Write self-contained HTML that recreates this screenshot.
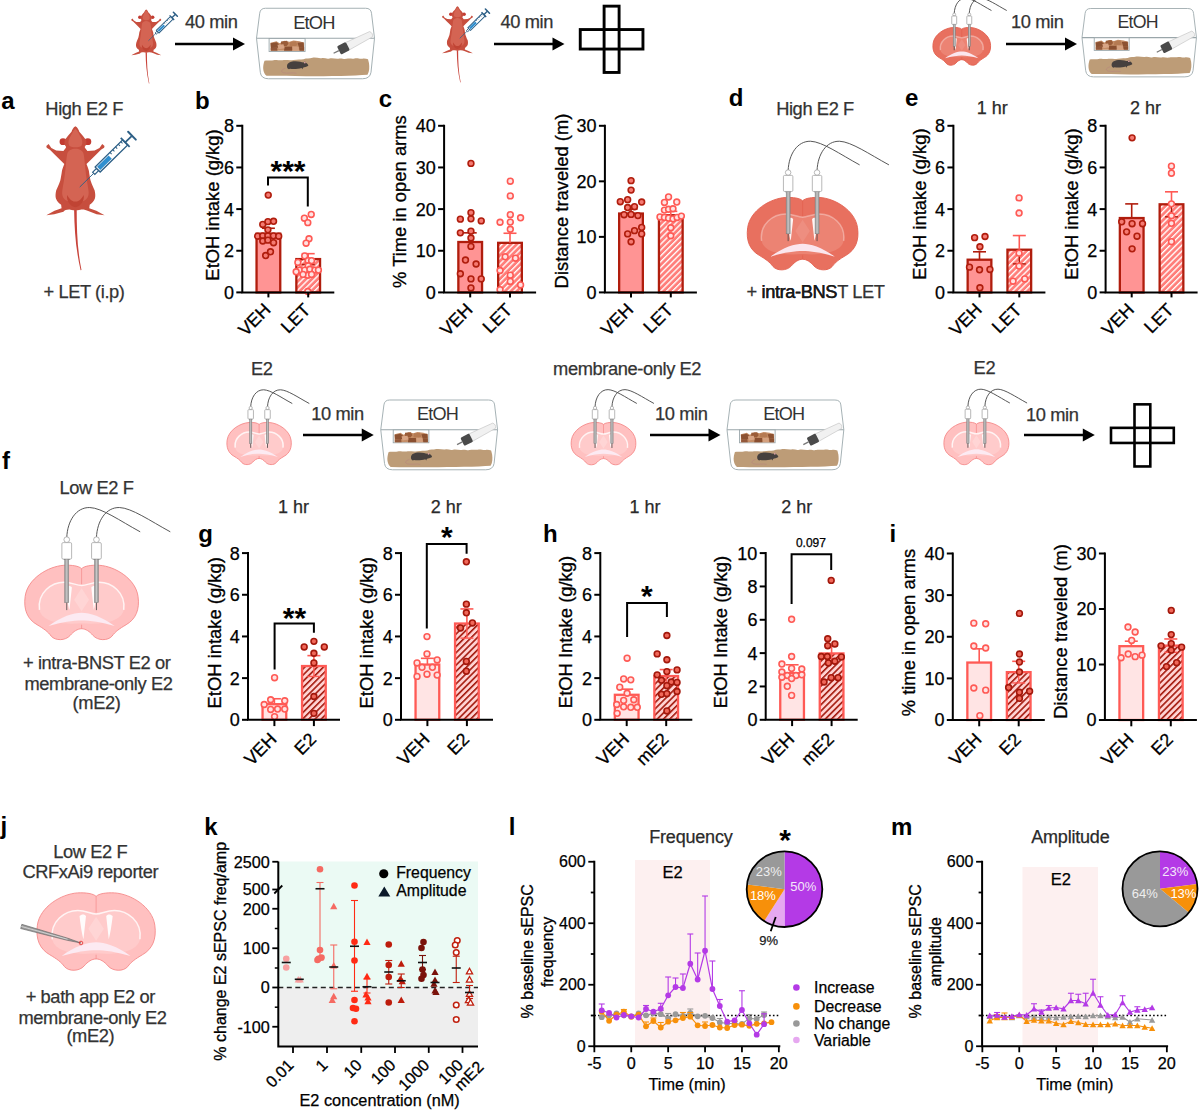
<!DOCTYPE html><html><head><meta charset="utf-8"><style>html,body{margin:0;padding:0;background:#fff;}svg{display:block;} text{font-family:"Liberation Sans", sans-serif;}</style></head><body>
<svg width="1200" height="1110" viewBox="0 0 1200 1110">
<defs><pattern id="h1" patternUnits="userSpaceOnUse" width="4.15" height="4.15" patternTransform="rotate(45)"><rect width="4.15" height="4.15" fill="#FF7E7A"/><rect x="0" y="0" width="1.35" height="4.15" fill="#fff"/></pattern><pattern id="h2" patternUnits="userSpaceOnUse" width="4.4" height="4.4" patternTransform="rotate(45)"><rect width="4.4" height="4.4" fill="#FFD3D3"/><rect x="0" y="0" width="1.6" height="4.4" fill="#A3180C"/></pattern></defs>
<rect width="1200" height="1110" fill="#fff"/>
<g transform="translate(122.86,6.16) scale(0.07425)">
<path d="M306,622 C308,760 318,900 351,1042 L357,1040 C328,900 324,760 324,622 Z" fill="#C8433A"/>
<circle cx="229" cy="150" r="24" fill="#C23B31"/><circle cx="401" cy="150" r="24" fill="#C23B31"/>
<path d="M315,44 C300,50 292,70 288,81 C270,100 250,125 240,140 C235,165 245,180 251,188 C245,200 238,208 232,215 L182,212 L148,194 L129,166 L113,180 L116,192 L138,206 L169,238 L213,281 L238,306 C230,325 225,340 222,350 C218,380 214,400 210,420 C200,450 190,470 182,488 C176,510 176,535 180,545 C185,560 200,580 216,588 L219,612 L170,630 L113,660 L168,654 L232,636 C240,625 258,620 280,622 C295,624 305,626 315,626 C325,626 335,624 350,622 C372,620 390,625 404,632 L462,654 L517,660 L460,630 L411,612 L414,588 C430,580 445,560 450,545 C454,535 454,510 448,488 C440,470 430,450 420,420 C416,400 412,380 408,350 C405,340 400,325 392,306 L417,281 L461,238 L492,206 L514,192 L517,180 L501,166 L482,194 L448,212 L398,215 C392,208 385,200 379,188 C385,180 395,165 390,140 C380,125 360,100 342,81 C338,70 330,50 315,44 Z" fill="#C74E3E"/>
<path d="M315,200 C290,200 265,212 258,235 C252,265 250,300 246,340 C240,400 230,450 224,490 C220,520 228,545 252,558 C277,572 300,575 315,575 C330,575 353,572 378,558 C402,545 410,520 406,490 C400,450 390,400 384,340 C380,300 378,265 372,235 C365,212 340,200 315,200 Z" fill="#D46453"/>
<path d="M315,60 C300,70 290,95 280,115 C265,140 262,165 275,180 C290,192 340,192 355,180 C368,165 365,140 350,115 C340,95 330,70 315,60 Z" fill="#D46453"/>
<path d="M258,520 C280,560 300,566 315,566 C330,566 350,560 372,520 C380,560 350,600 315,606 C280,600 250,560 258,520 Z" fill="#C04434"/>
<g transform="translate(345,465) rotate(-44.5)" stroke="#2D5F86" fill="none">
<line x1="0" y1="0" x2="138" y2="0" stroke-width="9.0"/>
<rect x="136" y="-11" width="38" height="22" stroke-width="12.0" fill="#fff"/>
<rect x="174" y="-25" width="268" height="50" stroke-width="13.5" fill="#fff"/>
<rect x="186.0" y="-14.0" width="112" height="28.0" fill="#2F8FD0" stroke="none"/>
<line x1="318" y1="-25" x2="318" y2="-8" stroke-width="10.5"/>
<line x1="345" y1="-25" x2="345" y2="-8" stroke-width="10.5"/>
<line x1="372" y1="-25" x2="372" y2="-8" stroke-width="10.5"/>
<line x1="399" y1="-25" x2="399" y2="-8" stroke-width="10.5"/>
<line x1="424" y1="-25" x2="424" y2="-8" stroke-width="10.5"/>
<line x1="442" y1="-44" x2="442" y2="44" stroke-width="18.0"/>
<line x1="442" y1="0" x2="505" y2="0" stroke-width="18.0"/>
<line x1="508" y1="-38" x2="508" y2="38" stroke-width="21.0" stroke-linecap="round"/>
</g>
</g>
<line x1="175.00" y1="44.00" x2="235.00" y2="44.00" stroke="#000" stroke-width="2.3"/>
<path d="M233.00,37.60 L245.00,44.00 L233.00,50.40 Z" fill="#000"/>
<text x="185.00" y="28.00" font-size="18.3" text-anchor="start" fill="#333" letter-spacing="-0.4" stroke="#333" stroke-width="0.25" >40 min</text>
<g transform="translate(256.50,8.25) scale(1.0000)">
<path d="M9,0 L109,0 Q114.5,0 115,5 L118,30 L114.5,64 Q113.5,70.5 106,70.5 L12,70.5 Q4.5,70.5 3.8,64 L0,30 L3.2,5 Q3.8,0 9,0 Z" fill="#fff" stroke="#A5B1B4" stroke-width="1"/>
<line x1="0" y1="30" x2="118" y2="30" stroke="#9AA6AA" stroke-width="1.1"/>
<text x="57.4" y="20.6" font-size="18.3" letter-spacing="-0.8" text-anchor="middle" fill="#333">EtOH</text>
<rect x="12.6" y="30.2" width="36" height="13" fill="#fff" stroke="#9AA6AA" stroke-width="0.9"/>
<path d="M14,34.5 L20,33 L23,35 L28,32.5 L33,33.5 L37,32.3 L43,33 L47.6,34.5 L47.6,42.6 L14,42.6 Z" fill="#C58D66"/>
<polygon points="14,35 20,34 22.5,36 21.5,39.5 14.5,39.8" fill="#8C5232"/>
<polygon points="24.5,33.2 30.5,32.5 32,35.5 30,38 24.5,37.5" fill="#9A5C38"/>
<polygon points="33.5,33.8 39.5,33 41,36.8 38,38.5 33,37.5" fill="#B57A52"/>
<polygon points="41,34.5 47,34 47.5,38.8 42.5,39.2" fill="#8C5232"/>
<polygon points="14.3,39.8 20.5,39.5 21,42.6 14.3,42.6" fill="#93583A"/>
<polygon points="28,38.5 35.5,38.3 35.8,42.6 27.5,42.6" fill="#8A4F30"/>
<polygon points="42.5,39 47.6,38.8 47.6,42.6 43,42.6" fill="#8C5232"/>
<polygon points="21,36.5 27,36 28,40 22,41" fill="#D9A585"/>
<polygon points="36,38 42,38.5 42.5,42.6 36.2,42.6" fill="#D4A07E"/>
<g transform="translate(86,40.5) rotate(-27)">
<path d="M4,-4.2 L32,-3 Q34.5,0 32,3 L4,4.2 Z" fill="#F1F1F1" stroke="#C4C4C4" stroke-width="0.6"/>
<rect x="-4" y="-4.6" width="10" height="9.2" rx="1.5" fill="#4A4A4A"/>
<line x1="-10" y1="0" x2="-4" y2="0" stroke="#777" stroke-width="1.3"/>
</g>
<path d="M8,52.5 C11,51.8 14,52.6 17,52 C20,51.2 22,52.4 26,52 C30,51.5 33,52.5 37,51.8 C41,51 44,51.5 47,51 C50,49.8 53,50.6 56,49.6 C59,48.8 62,50.4 65,50 C68,49.4 70,51 73,50.2 C76,49.4 79,50.8 82,50.4 C85,49.5 87,51.2 90,50.6 C93,49.6 95,50.8 98,50.2 C101,49.2 103,51 106,50.4 C108,50 110,50.6 111.5,51 L112.5,55 C113,59 113,63 111,66.5 C90,68.2 40,68.2 10,67.6 C6,64 6,58 8,52.5 Z" fill="#BD9C77"/>
<path transform="translate(2,0)" d="M28.5,58 C28.5,54.5 32,53 37,53 C41,53 43,54 45,54.2 L46.5,53.2 L47.3,54.5 C48.5,55 50,56.5 49.8,57.5 C48,58.5 46,59 44.5,59.5 L44,61 L43,59.8 C40,60.8 35,61 31.5,60.6 L30.5,61 C29,60.5 28.5,59.5 28.5,58 Z" fill="#46403E"/>
<circle cx="48.3" cy="54.3" r="0.9" fill="#D9A0A0"/>
<path d="M29,60 C26,61 23,63 27,64.5 C31,65.5 36,64 40,65" fill="none" stroke="#B48080" stroke-width="0.5"/>
</g>
<g transform="translate(433.40,2.81) scale(0.07640)">
<path d="M306,622 C308,760 318,900 351,1042 L357,1040 C328,900 324,760 324,622 Z" fill="#C8433A"/>
<circle cx="229" cy="150" r="24" fill="#C23B31"/><circle cx="401" cy="150" r="24" fill="#C23B31"/>
<path d="M315,44 C300,50 292,70 288,81 C270,100 250,125 240,140 C235,165 245,180 251,188 C245,200 238,208 232,215 L182,212 L148,194 L129,166 L113,180 L116,192 L138,206 L169,238 L213,281 L238,306 C230,325 225,340 222,350 C218,380 214,400 210,420 C200,450 190,470 182,488 C176,510 176,535 180,545 C185,560 200,580 216,588 L219,612 L170,630 L113,660 L168,654 L232,636 C240,625 258,620 280,622 C295,624 305,626 315,626 C325,626 335,624 350,622 C372,620 390,625 404,632 L462,654 L517,660 L460,630 L411,612 L414,588 C430,580 445,560 450,545 C454,535 454,510 448,488 C440,470 430,450 420,420 C416,400 412,380 408,350 C405,340 400,325 392,306 L417,281 L461,238 L492,206 L514,192 L517,180 L501,166 L482,194 L448,212 L398,215 C392,208 385,200 379,188 C385,180 395,165 390,140 C380,125 360,100 342,81 C338,70 330,50 315,44 Z" fill="#C74E3E"/>
<path d="M315,200 C290,200 265,212 258,235 C252,265 250,300 246,340 C240,400 230,450 224,490 C220,520 228,545 252,558 C277,572 300,575 315,575 C330,575 353,572 378,558 C402,545 410,520 406,490 C400,450 390,400 384,340 C380,300 378,265 372,235 C365,212 340,200 315,200 Z" fill="#D46453"/>
<path d="M315,60 C300,70 290,95 280,115 C265,140 262,165 275,180 C290,192 340,192 355,180 C368,165 365,140 350,115 C340,95 330,70 315,60 Z" fill="#D46453"/>
<path d="M258,520 C280,560 300,566 315,566 C330,566 350,560 372,520 C380,560 350,600 315,606 C280,600 250,560 258,520 Z" fill="#C04434"/>
<g transform="translate(345,465) rotate(-44.5)" stroke="#2D5F86" fill="none">
<line x1="0" y1="0" x2="138" y2="0" stroke-width="9.0"/>
<rect x="136" y="-11" width="38" height="22" stroke-width="12.0" fill="#fff"/>
<rect x="174" y="-25" width="268" height="50" stroke-width="13.5" fill="#fff"/>
<rect x="186.0" y="-14.0" width="112" height="28.0" fill="#2F8FD0" stroke="none"/>
<line x1="318" y1="-25" x2="318" y2="-8" stroke-width="10.5"/>
<line x1="345" y1="-25" x2="345" y2="-8" stroke-width="10.5"/>
<line x1="372" y1="-25" x2="372" y2="-8" stroke-width="10.5"/>
<line x1="399" y1="-25" x2="399" y2="-8" stroke-width="10.5"/>
<line x1="424" y1="-25" x2="424" y2="-8" stroke-width="10.5"/>
<line x1="442" y1="-44" x2="442" y2="44" stroke-width="18.0"/>
<line x1="442" y1="0" x2="505" y2="0" stroke-width="18.0"/>
<line x1="508" y1="-38" x2="508" y2="38" stroke-width="21.0" stroke-linecap="round"/>
</g>
</g>
<line x1="494.00" y1="44.00" x2="554.50" y2="44.00" stroke="#000" stroke-width="2.3"/>
<path d="M552.50,37.60 L564.50,44.00 L552.50,50.40 Z" fill="#000"/>
<text x="500.50" y="28.00" font-size="18.3" text-anchor="start" fill="#333" letter-spacing="-0.4" stroke="#333" stroke-width="0.25" >40 min</text>
<rect x="604.10" y="6.15" width="15.00" height="66.30" fill="none" stroke="#000" stroke-width="2.9"/>
<rect x="580.25" y="29.55" width="62.70" height="19.50" fill="none" stroke="#000" stroke-width="2.9"/>
<g transform="translate(961.75,27.50) scale(0.06845)">
<path d="M0,25 C-20,5 -70,-3 -132,0 C-250,8 -400,100 -418,230 C-432,330 -400,400 -330,440 C-280,470 -250,490 -225,525 C-195,560 -120,560 -85,520 C-60,490 -30,470 0,470 C30,470 60,490 85,520 C120,560 195,560 225,525 C250,490 280,470 330,440 C400,400 432,330 418,230 C400,100 250,8 132,0 C70,-3 20,5 0,25 Z" fill="#E8705F" stroke="#E2604F" stroke-width="13.15"/>
<path d="M-312,330 C-330,200 -220,125 -130,125 C-70,125 -40,150 0,150 C40,150 70,125 130,125 C220,125 330,200 312,330 C300,400 200,445 0,430 C-200,445 -300,400 -312,330 Z" fill="#EC8373"/>
<path d="M-312,330 C-330,200 -220,125 -130,125 C-70,125 -40,150 0,150 C40,150 70,125 130,125 C220,125 330,200 312,330" fill="none" stroke="#fff" stroke-opacity="0.35" stroke-width="21.91"/>
<path d="M0,170 L-55,255 L0,340 L55,255 Z" fill="#EE8E80"/>
<path d="M-118,165 C-105,150 -80,150 -72,165 L-90,330 C-100,300 -112,220 -118,165 Z M118,165 C105,150 80,150 72,165 L90,330 C100,300 112,220 118,165 Z" fill="#fff" fill-opacity="0.92"/>
<path d="M-245,450 C-150,380 -60,352 0,352 C60,352 150,380 245,450 C150,420 60,408 0,408 C-60,408 -150,420 -245,450 Z" fill="#FBE6EE"/>
<path d="M0,25 L0,140 M0,440 L0,470" stroke="#E2604F" stroke-width="10.23" fill="none"/>
<path d="M-110,-205 C-105,-330 -40,-430 60,-428 C150,-425 284,-330 434,-248" fill="none" stroke="#444" stroke-width="13.15"/>
<rect x="-132" y="-48" width="44" height="8" fill="#777"/>
<rect x="-125" y="-46" width="30" height="322" fill="#A6A6A6" stroke="#7A7A7A" stroke-width="7.30"/>
<rect x="-114" y="-46" width="8" height="322" fill="#C8C8C8"/>
<line x1="-110" y1="276" x2="-110" y2="332" stroke="#444" stroke-width="11.69"/>
<circle cx="-110" cy="-190" r="21" fill="#fff" stroke="#999" stroke-width="10.23"/>
<rect x="-146" y="-168" width="72" height="122" rx="9" fill="#fff" stroke="#999" stroke-width="10.23"/>
<path d="M110,-205 C115,-330 180,-430 280,-428 C370,-425 507,-330 657,-248" fill="none" stroke="#444" stroke-width="13.15"/>
<rect x="88" y="-48" width="44" height="8" fill="#777"/>
<rect x="95" y="-46" width="30" height="322" fill="#A6A6A6" stroke="#7A7A7A" stroke-width="7.30"/>
<rect x="106" y="-46" width="8" height="322" fill="#C8C8C8"/>
<line x1="110" y1="276" x2="110" y2="332" stroke="#444" stroke-width="11.69"/>
<circle cx="110" cy="-190" r="21" fill="#fff" stroke="#999" stroke-width="10.23"/>
<rect x="74" y="-168" width="72" height="122" rx="9" fill="#fff" stroke="#999" stroke-width="10.23"/>
</g>
<line x1="1006.00" y1="44.00" x2="1067.00" y2="44.00" stroke="#000" stroke-width="2.3"/>
<path d="M1065.00,37.60 L1077.00,44.00 L1065.00,50.40 Z" fill="#000"/>
<text x="1011.00" y="28.00" font-size="18.3" text-anchor="start" fill="#333" letter-spacing="-0.4" stroke="#333" stroke-width="0.25" >10 min</text>
<g transform="translate(1082.00,8.50) scale(0.9700)">
<path d="M9,0 L109,0 Q114.5,0 115,5 L118,30 L114.5,64 Q113.5,70.5 106,70.5 L12,70.5 Q4.5,70.5 3.8,64 L0,30 L3.2,5 Q3.8,0 9,0 Z" fill="#fff" stroke="#A5B1B4" stroke-width="1"/>
<line x1="0" y1="30" x2="118" y2="30" stroke="#9AA6AA" stroke-width="1.1"/>
<text x="57.4" y="20.6" font-size="18.3" letter-spacing="-0.8" text-anchor="middle" fill="#333">EtOH</text>
<rect x="12.6" y="30.2" width="36" height="13" fill="#fff" stroke="#9AA6AA" stroke-width="0.9"/>
<path d="M14,34.5 L20,33 L23,35 L28,32.5 L33,33.5 L37,32.3 L43,33 L47.6,34.5 L47.6,42.6 L14,42.6 Z" fill="#C58D66"/>
<polygon points="14,35 20,34 22.5,36 21.5,39.5 14.5,39.8" fill="#8C5232"/>
<polygon points="24.5,33.2 30.5,32.5 32,35.5 30,38 24.5,37.5" fill="#9A5C38"/>
<polygon points="33.5,33.8 39.5,33 41,36.8 38,38.5 33,37.5" fill="#B57A52"/>
<polygon points="41,34.5 47,34 47.5,38.8 42.5,39.2" fill="#8C5232"/>
<polygon points="14.3,39.8 20.5,39.5 21,42.6 14.3,42.6" fill="#93583A"/>
<polygon points="28,38.5 35.5,38.3 35.8,42.6 27.5,42.6" fill="#8A4F30"/>
<polygon points="42.5,39 47.6,38.8 47.6,42.6 43,42.6" fill="#8C5232"/>
<polygon points="21,36.5 27,36 28,40 22,41" fill="#D9A585"/>
<polygon points="36,38 42,38.5 42.5,42.6 36.2,42.6" fill="#D4A07E"/>
<g transform="translate(86,40.5) rotate(-27)">
<path d="M4,-4.2 L32,-3 Q34.5,0 32,3 L4,4.2 Z" fill="#F1F1F1" stroke="#C4C4C4" stroke-width="0.6"/>
<rect x="-4" y="-4.6" width="10" height="9.2" rx="1.5" fill="#4A4A4A"/>
<line x1="-10" y1="0" x2="-4" y2="0" stroke="#777" stroke-width="1.3"/>
</g>
<path d="M8,52.5 C11,51.8 14,52.6 17,52 C20,51.2 22,52.4 26,52 C30,51.5 33,52.5 37,51.8 C41,51 44,51.5 47,51 C50,49.8 53,50.6 56,49.6 C59,48.8 62,50.4 65,50 C68,49.4 70,51 73,50.2 C76,49.4 79,50.8 82,50.4 C85,49.5 87,51.2 90,50.6 C93,49.6 95,50.8 98,50.2 C101,49.2 103,51 106,50.4 C108,50 110,50.6 111.5,51 L112.5,55 C113,59 113,63 111,66.5 C90,68.2 40,68.2 10,67.6 C6,64 6,58 8,52.5 Z" fill="#BD9C77"/>
<path transform="translate(2,0)" d="M28.5,58 C28.5,54.5 32,53 37,53 C41,53 43,54 45,54.2 L46.5,53.2 L47.3,54.5 C48.5,55 50,56.5 49.8,57.5 C48,58.5 46,59 44.5,59.5 L44,61 L43,59.8 C40,60.8 35,61 31.5,60.6 L30.5,61 C29,60.5 28.5,59.5 28.5,58 Z" fill="#46403E"/>
<circle cx="48.3" cy="54.3" r="0.9" fill="#D9A0A0"/>
<path d="M29,60 C26,61 23,63 27,64.5 C31,65.5 36,64 40,65" fill="none" stroke="#B48080" stroke-width="0.5"/>
</g>
<text x="1.30" y="108.50" font-size="24" text-anchor="start" fill="#000" font-weight="bold" >a</text>
<text x="84.20" y="115.00" font-size="18.3" text-anchor="middle" fill="#333" letter-spacing="-0.4" stroke="#333" stroke-width="0.25" >High E2 F</text>
<g transform="translate(30.00,120.00) scale(0.14418)">
<path d="M306,622 C308,760 318,900 351,1042 L357,1040 C328,900 324,760 324,622 Z" fill="#C8433A"/>
<circle cx="229" cy="150" r="24" fill="#C23B31"/><circle cx="401" cy="150" r="24" fill="#C23B31"/>
<path d="M315,44 C300,50 292,70 288,81 C270,100 250,125 240,140 C235,165 245,180 251,188 C245,200 238,208 232,215 L182,212 L148,194 L129,166 L113,180 L116,192 L138,206 L169,238 L213,281 L238,306 C230,325 225,340 222,350 C218,380 214,400 210,420 C200,450 190,470 182,488 C176,510 176,535 180,545 C185,560 200,580 216,588 L219,612 L170,630 L113,660 L168,654 L232,636 C240,625 258,620 280,622 C295,624 305,626 315,626 C325,626 335,624 350,622 C372,620 390,625 404,632 L462,654 L517,660 L460,630 L411,612 L414,588 C430,580 445,560 450,545 C454,535 454,510 448,488 C440,470 430,450 420,420 C416,400 412,380 408,350 C405,340 400,325 392,306 L417,281 L461,238 L492,206 L514,192 L517,180 L501,166 L482,194 L448,212 L398,215 C392,208 385,200 379,188 C385,180 395,165 390,140 C380,125 360,100 342,81 C338,70 330,50 315,44 Z" fill="#C74E3E"/>
<path d="M315,200 C290,200 265,212 258,235 C252,265 250,300 246,340 C240,400 230,450 224,490 C220,520 228,545 252,558 C277,572 300,575 315,575 C330,575 353,572 378,558 C402,545 410,520 406,490 C400,450 390,400 384,340 C380,300 378,265 372,235 C365,212 340,200 315,200 Z" fill="#D46453"/>
<path d="M315,60 C300,70 290,95 280,115 C265,140 262,165 275,180 C290,192 340,192 355,180 C368,165 365,140 350,115 C340,95 330,70 315,60 Z" fill="#D46453"/>
<path d="M258,520 C280,560 300,566 315,566 C330,566 350,560 372,520 C380,560 350,600 315,606 C280,600 250,560 258,520 Z" fill="#C04434"/>
<g transform="translate(345,465) rotate(-44.5)" stroke="#2D5F86" fill="none">
<line x1="0" y1="0" x2="138" y2="0" stroke-width="6.0"/>
<rect x="136" y="-11" width="38" height="22" stroke-width="8.0" fill="#fff"/>
<rect x="174" y="-25" width="268" height="50" stroke-width="9.0" fill="#fff"/>
<rect x="184.0" y="-16.0" width="112" height="32.0" fill="#2F8FD0" stroke="none"/>
<line x1="318" y1="-25" x2="318" y2="-8" stroke-width="7.0"/>
<line x1="345" y1="-25" x2="345" y2="-8" stroke-width="7.0"/>
<line x1="372" y1="-25" x2="372" y2="-8" stroke-width="7.0"/>
<line x1="399" y1="-25" x2="399" y2="-8" stroke-width="7.0"/>
<line x1="424" y1="-25" x2="424" y2="-8" stroke-width="7.0"/>
<line x1="442" y1="-44" x2="442" y2="44" stroke-width="12.0"/>
<line x1="442" y1="0" x2="505" y2="0" stroke-width="12.0"/>
<line x1="508" y1="-38" x2="508" y2="38" stroke-width="14.0" stroke-linecap="round"/>
</g>
</g>
<text x="84.00" y="297.80" font-size="18.3" text-anchor="middle" fill="#333" letter-spacing="-0.4" stroke="#333" stroke-width="0.25" >+ LET (i.p)</text>
<text x="195.00" y="109.30" font-size="24" text-anchor="start" fill="#000" font-weight="bold" >b</text>
<rect x="256.55" y="233.67" width="23.7" height="58.73" fill="#FF9494" stroke="#B01D0D" stroke-width="2.3"/>
<line x1="268.40" y1="233.67" x2="268.40" y2="228.26" stroke="#B01D0D" stroke-width="1.6"/>
<line x1="261.90" y1="228.26" x2="274.90" y2="228.26" stroke="#B01D0D" stroke-width="1.6"/>
<circle cx="268.25" cy="195.10" r="2.9" fill="#F57A72" stroke="#B01D0D" stroke-width="1.6"/>
<circle cx="262.77" cy="224.38" r="2.9" fill="#F57A72" stroke="#B01D0D" stroke-width="1.6"/>
<circle cx="267.91" cy="221.64" r="2.9" fill="#F57A72" stroke="#B01D0D" stroke-width="1.6"/>
<circle cx="273.56" cy="221.30" r="2.9" fill="#F57A72" stroke="#B01D0D" stroke-width="1.6"/>
<circle cx="257.64" cy="236.20" r="2.9" fill="#F57A72" stroke="#B01D0D" stroke-width="1.6"/>
<circle cx="262.77" cy="235.86" r="2.9" fill="#F57A72" stroke="#B01D0D" stroke-width="1.6"/>
<circle cx="267.91" cy="235.86" r="2.9" fill="#F57A72" stroke="#B01D0D" stroke-width="1.6"/>
<circle cx="273.39" cy="235.86" r="2.9" fill="#F57A72" stroke="#B01D0D" stroke-width="1.6"/>
<circle cx="278.70" cy="236.20" r="2.9" fill="#F57A72" stroke="#B01D0D" stroke-width="1.6"/>
<circle cx="262.77" cy="240.99" r="2.9" fill="#F57A72" stroke="#B01D0D" stroke-width="1.6"/>
<circle cx="267.91" cy="240.14" r="2.9" fill="#F57A72" stroke="#B01D0D" stroke-width="1.6"/>
<circle cx="273.56" cy="242.71" r="2.9" fill="#F57A72" stroke="#B01D0D" stroke-width="1.6"/>
<circle cx="265.68" cy="255.55" r="2.9" fill="#F57A72" stroke="#B01D0D" stroke-width="1.6"/>
<circle cx="270.48" cy="251.78" r="2.9" fill="#F57A72" stroke="#B01D0D" stroke-width="1.6"/>
<circle cx="267.91" cy="229.86" r="2.9" fill="#F57A72" stroke="#B01D0D" stroke-width="1.6"/>
<rect x="296.35" y="259.08" width="23.7" height="33.32" fill="url(#h1)" stroke="#B01D0D" stroke-width="2.3"/>
<line x1="308.20" y1="259.08" x2="308.20" y2="253.67" stroke="#FF5A55" stroke-width="1.6"/>
<line x1="301.70" y1="253.67" x2="314.70" y2="253.67" stroke="#FF5A55" stroke-width="1.6"/>
<line x1="308.20" y1="259.08" x2="308.20" y2="264.49" stroke="#B01D0D" stroke-width="1.4"/>
<line x1="301.70" y1="264.49" x2="314.70" y2="264.49" stroke="#B01D0D" stroke-width="1.4"/>
<circle cx="304.38" cy="218.22" r="2.9" fill="#FFE2E2" stroke="#FF5A55" stroke-width="1.6"/>
<circle cx="311.23" cy="214.45" r="2.9" fill="#FFE2E2" stroke="#FF5A55" stroke-width="1.6"/>
<circle cx="307.81" cy="222.67" r="2.9" fill="#FFE2E2" stroke="#FF5A55" stroke-width="1.6"/>
<circle cx="309.01" cy="238.77" r="2.9" fill="#FFE2E2" stroke="#FF5A55" stroke-width="1.6"/>
<circle cx="306.10" cy="243.22" r="2.9" fill="#FFE2E2" stroke="#FF5A55" stroke-width="1.6"/>
<circle cx="304.73" cy="255.89" r="2.9" fill="#FFE2E2" stroke="#FF5A55" stroke-width="1.6"/>
<circle cx="308.15" cy="260.68" r="2.9" fill="#FFE2E2" stroke="#FF5A55" stroke-width="1.6"/>
<circle cx="311.58" cy="260.68" r="2.9" fill="#FFE2E2" stroke="#FF5A55" stroke-width="1.6"/>
<circle cx="297.88" cy="262.40" r="2.9" fill="#FFE2E2" stroke="#FF5A55" stroke-width="1.6"/>
<circle cx="308.15" cy="265.82" r="2.9" fill="#FFE2E2" stroke="#FF5A55" stroke-width="1.6"/>
<circle cx="299.59" cy="270.10" r="2.9" fill="#FFE2E2" stroke="#FF5A55" stroke-width="1.6"/>
<circle cx="304.73" cy="270.10" r="2.9" fill="#FFE2E2" stroke="#FF5A55" stroke-width="1.6"/>
<circle cx="309.86" cy="269.25" r="2.9" fill="#FFE2E2" stroke="#FF5A55" stroke-width="1.6"/>
<circle cx="315.00" cy="270.10" r="2.9" fill="#FFE2E2" stroke="#FF5A55" stroke-width="1.6"/>
<circle cx="318.42" cy="270.10" r="2.9" fill="#FFE2E2" stroke="#FF5A55" stroke-width="1.6"/>
<circle cx="296.16" cy="271.82" r="2.9" fill="#FFE2E2" stroke="#FF5A55" stroke-width="1.6"/>
<circle cx="307.81" cy="275.24" r="2.9" fill="#FFE2E2" stroke="#FF5A55" stroke-width="1.6"/>
<circle cx="303.01" cy="274.38" r="2.9" fill="#FFE2E2" stroke="#FF5A55" stroke-width="1.6"/>
<circle cx="311.58" cy="274.38" r="2.9" fill="#FFE2E2" stroke="#FF5A55" stroke-width="1.6"/>
<circle cx="307.81" cy="291.51" r="2.9" fill="#FFE2E2" stroke="#FF5A55" stroke-width="1.6"/>
<path d="M242.30,124.80 L242.30,292.40 L334.30,292.40" fill="none" stroke="#000" stroke-width="2"/>
<line x1="236.30" y1="292.40" x2="242.30" y2="292.40" stroke="#000" stroke-width="2"/>
<text x="234.00" y="298.80" font-size="18" text-anchor="end" fill="#000" stroke="#000" stroke-width="0.25" >0</text>
<line x1="236.30" y1="250.75" x2="242.30" y2="250.75" stroke="#000" stroke-width="2"/>
<text x="234.00" y="257.15" font-size="18" text-anchor="end" fill="#000" stroke="#000" stroke-width="0.25" >2</text>
<line x1="236.30" y1="209.10" x2="242.30" y2="209.10" stroke="#000" stroke-width="2"/>
<text x="234.00" y="215.50" font-size="18" text-anchor="end" fill="#000" stroke="#000" stroke-width="0.25" >4</text>
<line x1="236.30" y1="167.45" x2="242.30" y2="167.45" stroke="#000" stroke-width="2"/>
<text x="234.00" y="173.85" font-size="18" text-anchor="end" fill="#000" stroke="#000" stroke-width="0.25" >6</text>
<line x1="236.30" y1="125.80" x2="242.30" y2="125.80" stroke="#000" stroke-width="2"/>
<text x="234.00" y="132.20" font-size="18" text-anchor="end" fill="#000" stroke="#000" stroke-width="0.25" >8</text>
<line x1="268.40" y1="292.40" x2="268.40" y2="297.40" stroke="#000" stroke-width="2"/>
<text transform="translate(271.80,310.90) rotate(-45)" font-size="18" text-anchor="end" stroke="#000" stroke-width="0.3">VEH</text>
<line x1="308.20" y1="292.40" x2="308.20" y2="297.40" stroke="#000" stroke-width="2"/>
<text transform="translate(311.60,310.90) rotate(-45)" font-size="18" text-anchor="end" stroke="#000" stroke-width="0.3">LET</text>
<text transform="translate(218.70,205.00) rotate(-90)" font-size="18.4" text-anchor="middle" fill="#000" stroke="#000" stroke-width="0.3">EtOH intake (g/kg)</text>
<path d="M268.00,185.50 L268.00,177.60 L307.80,177.60 L307.80,206.50" fill="none" stroke="#000" stroke-width="2"/>
<text x="288.00" y="180.70" font-size="30" text-anchor="middle" fill="#000" font-weight="bold" >***</text>
<text x="378.80" y="106.60" font-size="24" text-anchor="start" fill="#000" font-weight="bold" >c</text>
<rect x="458.35" y="242.00" width="23.7" height="50.40" fill="#FF9494" stroke="#B01D0D" stroke-width="2.3"/>
<line x1="470.20" y1="242.00" x2="470.20" y2="232.84" stroke="#B01D0D" stroke-width="1.6"/>
<line x1="463.70" y1="232.84" x2="476.70" y2="232.84" stroke="#B01D0D" stroke-width="1.6"/>
<circle cx="470.96" cy="163.39" r="2.9" fill="#F57A72" stroke="#B01D0D" stroke-width="1.6"/>
<circle cx="470.96" cy="212.67" r="2.9" fill="#F57A72" stroke="#B01D0D" stroke-width="1.6"/>
<circle cx="460.35" cy="219.17" r="2.9" fill="#F57A72" stroke="#B01D0D" stroke-width="1.6"/>
<circle cx="470.96" cy="218.83" r="2.9" fill="#F57A72" stroke="#B01D0D" stroke-width="1.6"/>
<circle cx="481.23" cy="220.88" r="2.9" fill="#F57A72" stroke="#B01D0D" stroke-width="1.6"/>
<circle cx="460.35" cy="232.86" r="2.9" fill="#F57A72" stroke="#B01D0D" stroke-width="1.6"/>
<circle cx="470.96" cy="231.15" r="2.9" fill="#F57A72" stroke="#B01D0D" stroke-width="1.6"/>
<circle cx="470.96" cy="237.99" r="2.9" fill="#F57A72" stroke="#B01D0D" stroke-width="1.6"/>
<circle cx="470.96" cy="246.38" r="2.9" fill="#F57A72" stroke="#B01D0D" stroke-width="1.6"/>
<circle cx="465.48" cy="260.07" r="2.9" fill="#F57A72" stroke="#B01D0D" stroke-width="1.6"/>
<circle cx="476.09" cy="264.00" r="2.9" fill="#F57A72" stroke="#B01D0D" stroke-width="1.6"/>
<circle cx="460.35" cy="273.76" r="2.9" fill="#F57A72" stroke="#B01D0D" stroke-width="1.6"/>
<circle cx="470.96" cy="278.89" r="2.9" fill="#F57A72" stroke="#B01D0D" stroke-width="1.6"/>
<circle cx="481.23" cy="278.89" r="2.9" fill="#F57A72" stroke="#B01D0D" stroke-width="1.6"/>
<circle cx="470.96" cy="287.96" r="2.9" fill="#F57A72" stroke="#B01D0D" stroke-width="1.6"/>
<rect x="498.15" y="242.84" width="23.7" height="49.56" fill="url(#h1)" stroke="#B01D0D" stroke-width="2.3"/>
<line x1="510.00" y1="242.84" x2="510.00" y2="233.26" stroke="#FF5A55" stroke-width="1.6"/>
<line x1="503.50" y1="233.26" x2="516.50" y2="233.26" stroke="#FF5A55" stroke-width="1.6"/>
<circle cx="510.31" cy="181.18" r="2.9" fill="#FFE2E2" stroke="#FF5A55" stroke-width="1.6"/>
<circle cx="510.31" cy="195.90" r="2.9" fill="#FFE2E2" stroke="#FF5A55" stroke-width="1.6"/>
<circle cx="510.31" cy="214.72" r="2.9" fill="#FFE2E2" stroke="#FF5A55" stroke-width="1.6"/>
<circle cx="520.58" cy="217.80" r="2.9" fill="#FFE2E2" stroke="#FF5A55" stroke-width="1.6"/>
<circle cx="500.05" cy="222.25" r="2.9" fill="#FFE2E2" stroke="#FF5A55" stroke-width="1.6"/>
<circle cx="510.31" cy="222.08" r="2.9" fill="#FFE2E2" stroke="#FF5A55" stroke-width="1.6"/>
<circle cx="510.31" cy="229.27" r="2.9" fill="#FFE2E2" stroke="#FF5A55" stroke-width="1.6"/>
<circle cx="505.18" cy="256.82" r="2.9" fill="#FFE2E2" stroke="#FF5A55" stroke-width="1.6"/>
<circle cx="515.45" cy="258.19" r="2.9" fill="#FFE2E2" stroke="#FF5A55" stroke-width="1.6"/>
<circle cx="500.05" cy="270.51" r="2.9" fill="#FFE2E2" stroke="#FF5A55" stroke-width="1.6"/>
<circle cx="510.31" cy="275.13" r="2.9" fill="#FFE2E2" stroke="#FF5A55" stroke-width="1.6"/>
<circle cx="510.31" cy="281.46" r="2.9" fill="#FFE2E2" stroke="#FF5A55" stroke-width="1.6"/>
<circle cx="520.58" cy="284.88" r="2.9" fill="#FFE2E2" stroke="#FF5A55" stroke-width="1.6"/>
<circle cx="500.05" cy="289.67" r="2.9" fill="#FFE2E2" stroke="#FF5A55" stroke-width="1.6"/>
<path d="M444.10,124.80 L444.10,292.40 L536.10,292.40" fill="none" stroke="#000" stroke-width="2"/>
<line x1="438.10" y1="292.40" x2="444.10" y2="292.40" stroke="#000" stroke-width="2"/>
<text x="435.80" y="298.80" font-size="18" text-anchor="end" fill="#000" stroke="#000" stroke-width="0.25" >0</text>
<line x1="438.10" y1="250.75" x2="444.10" y2="250.75" stroke="#000" stroke-width="2"/>
<text x="435.80" y="257.15" font-size="18" text-anchor="end" fill="#000" stroke="#000" stroke-width="0.25" >10</text>
<line x1="438.10" y1="209.10" x2="444.10" y2="209.10" stroke="#000" stroke-width="2"/>
<text x="435.80" y="215.50" font-size="18" text-anchor="end" fill="#000" stroke="#000" stroke-width="0.25" >20</text>
<line x1="438.10" y1="167.45" x2="444.10" y2="167.45" stroke="#000" stroke-width="2"/>
<text x="435.80" y="173.85" font-size="18" text-anchor="end" fill="#000" stroke="#000" stroke-width="0.25" >30</text>
<line x1="438.10" y1="125.80" x2="444.10" y2="125.80" stroke="#000" stroke-width="2"/>
<text x="435.80" y="132.20" font-size="18" text-anchor="end" fill="#000" stroke="#000" stroke-width="0.25" >40</text>
<line x1="470.20" y1="292.40" x2="470.20" y2="297.40" stroke="#000" stroke-width="2"/>
<text transform="translate(473.60,310.90) rotate(-45)" font-size="18" text-anchor="end" stroke="#000" stroke-width="0.3">VEH</text>
<line x1="510.00" y1="292.40" x2="510.00" y2="297.40" stroke="#000" stroke-width="2"/>
<text transform="translate(513.40,310.90) rotate(-45)" font-size="18" text-anchor="end" stroke="#000" stroke-width="0.3">LET</text>
<text transform="translate(406.10,201.60) rotate(-90)" font-size="18.4" text-anchor="middle" fill="#000" stroke="#000" stroke-width="0.3">% Time in open arms</text>
<rect x="619.15" y="213.54" width="23.7" height="78.86" fill="#FF9494" stroke="#B01D0D" stroke-width="2.3"/>
<line x1="631.00" y1="213.54" x2="631.00" y2="209.10" stroke="#B01D0D" stroke-width="1.6"/>
<line x1="624.50" y1="209.10" x2="637.50" y2="209.10" stroke="#B01D0D" stroke-width="1.6"/>
<circle cx="631.07" cy="180.67" r="2.9" fill="#F57A72" stroke="#B01D0D" stroke-width="1.6"/>
<circle cx="631.07" cy="190.08" r="2.9" fill="#F57A72" stroke="#B01D0D" stroke-width="1.6"/>
<circle cx="620.29" cy="201.72" r="2.9" fill="#F57A72" stroke="#B01D0D" stroke-width="1.6"/>
<circle cx="627.65" cy="199.66" r="2.9" fill="#F57A72" stroke="#B01D0D" stroke-width="1.6"/>
<circle cx="641.68" cy="202.06" r="2.9" fill="#F57A72" stroke="#B01D0D" stroke-width="1.6"/>
<circle cx="627.65" cy="207.54" r="2.9" fill="#F57A72" stroke="#B01D0D" stroke-width="1.6"/>
<circle cx="634.49" cy="206.68" r="2.9" fill="#F57A72" stroke="#B01D0D" stroke-width="1.6"/>
<circle cx="624.06" cy="214.72" r="2.9" fill="#F57A72" stroke="#B01D0D" stroke-width="1.6"/>
<circle cx="631.07" cy="214.38" r="2.9" fill="#F57A72" stroke="#B01D0D" stroke-width="1.6"/>
<circle cx="637.92" cy="215.58" r="2.9" fill="#F57A72" stroke="#B01D0D" stroke-width="1.6"/>
<circle cx="641.68" cy="227.39" r="2.9" fill="#F57A72" stroke="#B01D0D" stroke-width="1.6"/>
<circle cx="634.49" cy="230.64" r="2.9" fill="#F57A72" stroke="#B01D0D" stroke-width="1.6"/>
<circle cx="627.65" cy="233.89" r="2.9" fill="#F57A72" stroke="#B01D0D" stroke-width="1.6"/>
<circle cx="641.68" cy="233.89" r="2.9" fill="#F57A72" stroke="#B01D0D" stroke-width="1.6"/>
<circle cx="631.07" cy="241.76" r="2.9" fill="#F57A72" stroke="#B01D0D" stroke-width="1.6"/>
<rect x="658.95" y="215.21" width="23.7" height="77.19" fill="url(#h1)" stroke="#B01D0D" stroke-width="2.3"/>
<line x1="670.80" y1="215.21" x2="670.80" y2="211.32" stroke="#FF5A55" stroke-width="1.6"/>
<line x1="664.30" y1="211.32" x2="677.30" y2="211.32" stroke="#FF5A55" stroke-width="1.6"/>
<circle cx="668.55" cy="196.93" r="2.9" fill="#FFE2E2" stroke="#FF5A55" stroke-width="1.6"/>
<circle cx="664.44" cy="202.40" r="2.9" fill="#FFE2E2" stroke="#FF5A55" stroke-width="1.6"/>
<circle cx="676.76" cy="202.06" r="2.9" fill="#FFE2E2" stroke="#FF5A55" stroke-width="1.6"/>
<circle cx="664.44" cy="210.10" r="2.9" fill="#FFE2E2" stroke="#FF5A55" stroke-width="1.6"/>
<circle cx="668.55" cy="209.25" r="2.9" fill="#FFE2E2" stroke="#FF5A55" stroke-width="1.6"/>
<circle cx="672.99" cy="208.73" r="2.9" fill="#FFE2E2" stroke="#FF5A55" stroke-width="1.6"/>
<circle cx="659.99" cy="216.95" r="2.9" fill="#FFE2E2" stroke="#FF5A55" stroke-width="1.6"/>
<circle cx="664.44" cy="217.46" r="2.9" fill="#FFE2E2" stroke="#FF5A55" stroke-width="1.6"/>
<circle cx="668.55" cy="218.15" r="2.9" fill="#FFE2E2" stroke="#FF5A55" stroke-width="1.6"/>
<circle cx="672.99" cy="218.83" r="2.9" fill="#FFE2E2" stroke="#FF5A55" stroke-width="1.6"/>
<circle cx="677.10" cy="217.46" r="2.9" fill="#FFE2E2" stroke="#FF5A55" stroke-width="1.6"/>
<circle cx="681.38" cy="216.09" r="2.9" fill="#FFE2E2" stroke="#FF5A55" stroke-width="1.6"/>
<circle cx="670.77" cy="227.73" r="2.9" fill="#FFE2E2" stroke="#FF5A55" stroke-width="1.6"/>
<circle cx="670.77" cy="235.77" r="2.9" fill="#FFE2E2" stroke="#FF5A55" stroke-width="1.6"/>
<path d="M604.90,124.80 L604.90,292.40 L696.90,292.40" fill="none" stroke="#000" stroke-width="2"/>
<line x1="598.90" y1="292.40" x2="604.90" y2="292.40" stroke="#000" stroke-width="2"/>
<text x="596.60" y="298.80" font-size="18" text-anchor="end" fill="#000" stroke="#000" stroke-width="0.25" >0</text>
<line x1="598.90" y1="236.87" x2="604.90" y2="236.87" stroke="#000" stroke-width="2"/>
<text x="596.60" y="243.27" font-size="18" text-anchor="end" fill="#000" stroke="#000" stroke-width="0.25" >10</text>
<line x1="598.90" y1="181.33" x2="604.90" y2="181.33" stroke="#000" stroke-width="2"/>
<text x="596.60" y="187.73" font-size="18" text-anchor="end" fill="#000" stroke="#000" stroke-width="0.25" >20</text>
<line x1="598.90" y1="125.80" x2="604.90" y2="125.80" stroke="#000" stroke-width="2"/>
<text x="596.60" y="132.20" font-size="18" text-anchor="end" fill="#000" stroke="#000" stroke-width="0.25" >30</text>
<line x1="631.00" y1="292.40" x2="631.00" y2="297.40" stroke="#000" stroke-width="2"/>
<text transform="translate(634.40,310.90) rotate(-45)" font-size="18" text-anchor="end" stroke="#000" stroke-width="0.3">VEH</text>
<line x1="670.80" y1="292.40" x2="670.80" y2="297.40" stroke="#000" stroke-width="2"/>
<text transform="translate(674.20,310.90) rotate(-45)" font-size="18" text-anchor="end" stroke="#000" stroke-width="0.3">LET</text>
<text transform="translate(567.70,201.00) rotate(-90)" font-size="18.4" text-anchor="middle" fill="#000" stroke="#000" stroke-width="0.3">Distance traveled (m)</text>
<text x="728.70" y="106.30" font-size="24" text-anchor="start" fill="#000" font-weight="bold" >d</text>
<text x="815.00" y="115.00" font-size="18.3" text-anchor="middle" fill="#333" letter-spacing="-0.4" stroke="#333" stroke-width="0.25" >High E2 F</text>
<g transform="translate(802.60,197.50) scale(0.13143)">
<path d="M0,25 C-20,5 -70,-3 -132,0 C-250,8 -400,100 -418,230 C-432,330 -400,400 -330,440 C-280,470 -250,490 -225,525 C-195,560 -120,560 -85,520 C-60,490 -30,470 0,470 C30,470 60,490 85,520 C120,560 195,560 225,525 C250,490 280,470 330,440 C400,400 432,330 418,230 C400,100 250,8 132,0 C70,-3 20,5 0,25 Z" fill="#E8705F" stroke="#E2604F" stroke-width="6.85"/>
<path d="M-312,330 C-330,200 -220,125 -130,125 C-70,125 -40,150 0,150 C40,150 70,125 130,125 C220,125 330,200 312,330 C300,400 200,445 0,430 C-200,445 -300,400 -312,330 Z" fill="#EC8373"/>
<path d="M-312,330 C-330,200 -220,125 -130,125 C-70,125 -40,150 0,150 C40,150 70,125 130,125 C220,125 330,200 312,330" fill="none" stroke="#fff" stroke-opacity="0.35" stroke-width="11.41"/>
<path d="M0,170 L-55,255 L0,340 L55,255 Z" fill="#EE8E80"/>
<path d="M-118,165 C-105,150 -80,150 -72,165 L-90,330 C-100,300 -112,220 -118,165 Z M118,165 C105,150 80,150 72,165 L90,330 C100,300 112,220 118,165 Z" fill="#fff" fill-opacity="0.92"/>
<path d="M-245,450 C-150,380 -60,352 0,352 C60,352 150,380 245,450 C150,420 60,408 0,408 C-60,408 -150,420 -245,450 Z" fill="#FBE6EE"/>
<path d="M0,25 L0,140 M0,440 L0,470" stroke="#E2604F" stroke-width="5.33" fill="none"/>
<path d="M-110,-205 C-105,-330 -40,-430 60,-428 C150,-425 284,-330 434,-248" fill="none" stroke="#444" stroke-width="6.85"/>
<rect x="-132" y="-48" width="44" height="8" fill="#777"/>
<rect x="-125" y="-46" width="30" height="322" fill="#A6A6A6" stroke="#7A7A7A" stroke-width="3.80"/>
<rect x="-114" y="-46" width="8" height="322" fill="#C8C8C8"/>
<line x1="-110" y1="276" x2="-110" y2="332" stroke="#444" stroke-width="6.09"/>
<circle cx="-110" cy="-190" r="21" fill="#fff" stroke="#999" stroke-width="5.33"/>
<rect x="-146" y="-168" width="72" height="122" rx="9" fill="#fff" stroke="#999" stroke-width="5.33"/>
<path d="M110,-205 C115,-330 180,-430 280,-428 C370,-425 507,-330 657,-248" fill="none" stroke="#444" stroke-width="6.85"/>
<rect x="88" y="-48" width="44" height="8" fill="#777"/>
<rect x="95" y="-46" width="30" height="322" fill="#A6A6A6" stroke="#7A7A7A" stroke-width="3.80"/>
<rect x="106" y="-46" width="8" height="322" fill="#C8C8C8"/>
<line x1="110" y1="276" x2="110" y2="332" stroke="#444" stroke-width="6.09"/>
<circle cx="110" cy="-190" r="21" fill="#fff" stroke="#999" stroke-width="5.33"/>
<rect x="74" y="-168" width="72" height="122" rx="9" fill="#fff" stroke="#999" stroke-width="5.33"/>
</g>
<text x="815.60" y="297.80" font-size="18.3" text-anchor="middle" fill="#333" letter-spacing="-0.4" stroke="#333" stroke-width="0.25" >+ intra-BNST LET</text>
<text x="761.5" y="297.8" font-size="18.3" letter-spacing="-0.4" fill="#1a1a1a" stroke="#1a1a1a" stroke-width="0.2">intra-BNS</text>
<text x="905.10" y="106.00" font-size="24" text-anchor="start" fill="#000" font-weight="bold" >e</text>
<text x="992.20" y="113.75" font-size="18" text-anchor="middle" fill="#2a2a2a" stroke="#2a2a2a" stroke-width="0.25" >1 hr</text>
<text x="1145.40" y="113.75" font-size="18" text-anchor="middle" fill="#2a2a2a" stroke="#2a2a2a" stroke-width="0.25" >2 hr</text>
<rect x="967.65" y="259.70" width="23.7" height="32.70" fill="#FF9494" stroke="#B01D0D" stroke-width="2.3"/>
<line x1="979.50" y1="259.70" x2="979.50" y2="251.79" stroke="#B01D0D" stroke-width="1.6"/>
<line x1="973.00" y1="251.79" x2="986.00" y2="251.79" stroke="#B01D0D" stroke-width="1.6"/>
<circle cx="974.61" cy="237.64" r="2.9" fill="#F57A72" stroke="#B01D0D" stroke-width="1.6"/>
<circle cx="985.02" cy="236.51" r="2.9" fill="#F57A72" stroke="#B01D0D" stroke-width="1.6"/>
<circle cx="979.91" cy="246.73" r="2.9" fill="#F57A72" stroke="#B01D0D" stroke-width="1.6"/>
<circle cx="969.50" cy="267.17" r="2.9" fill="#F57A72" stroke="#B01D0D" stroke-width="1.6"/>
<circle cx="979.53" cy="269.82" r="2.9" fill="#F57A72" stroke="#B01D0D" stroke-width="1.6"/>
<circle cx="989.94" cy="269.44" r="2.9" fill="#F57A72" stroke="#B01D0D" stroke-width="1.6"/>
<circle cx="979.91" cy="287.80" r="2.9" fill="#F57A72" stroke="#B01D0D" stroke-width="1.6"/>
<rect x="1007.45" y="249.71" width="23.7" height="42.69" fill="url(#h1)" stroke="#B01D0D" stroke-width="2.3"/>
<line x1="1019.30" y1="249.71" x2="1019.30" y2="235.55" stroke="#FF5A55" stroke-width="1.6"/>
<line x1="1012.80" y1="235.55" x2="1025.80" y2="235.55" stroke="#FF5A55" stroke-width="1.6"/>
<line x1="1019.30" y1="249.71" x2="1019.30" y2="263.87" stroke="#B01D0D" stroke-width="1.4"/>
<line x1="1012.80" y1="263.87" x2="1025.80" y2="263.87" stroke="#B01D0D" stroke-width="1.4"/>
<circle cx="1019.09" cy="197.89" r="2.9" fill="#FFE2E2" stroke="#FF5A55" stroke-width="1.6"/>
<circle cx="1019.09" cy="213.04" r="2.9" fill="#FFE2E2" stroke="#FF5A55" stroke-width="1.6"/>
<circle cx="1019.09" cy="253.16" r="2.9" fill="#FFE2E2" stroke="#FF5A55" stroke-width="1.6"/>
<circle cx="1019.09" cy="266.04" r="2.9" fill="#FFE2E2" stroke="#FF5A55" stroke-width="1.6"/>
<circle cx="1013.04" cy="281.18" r="2.9" fill="#FFE2E2" stroke="#FF5A55" stroke-width="1.6"/>
<circle cx="1024.77" cy="278.91" r="2.9" fill="#FFE2E2" stroke="#FF5A55" stroke-width="1.6"/>
<path d="M953.40,124.80 L953.40,292.40 L1045.40,292.40" fill="none" stroke="#000" stroke-width="2"/>
<line x1="947.40" y1="292.40" x2="953.40" y2="292.40" stroke="#000" stroke-width="2"/>
<text x="945.10" y="298.80" font-size="18" text-anchor="end" fill="#000" stroke="#000" stroke-width="0.25" >0</text>
<line x1="947.40" y1="250.75" x2="953.40" y2="250.75" stroke="#000" stroke-width="2"/>
<text x="945.10" y="257.15" font-size="18" text-anchor="end" fill="#000" stroke="#000" stroke-width="0.25" >2</text>
<line x1="947.40" y1="209.10" x2="953.40" y2="209.10" stroke="#000" stroke-width="2"/>
<text x="945.10" y="215.50" font-size="18" text-anchor="end" fill="#000" stroke="#000" stroke-width="0.25" >4</text>
<line x1="947.40" y1="167.45" x2="953.40" y2="167.45" stroke="#000" stroke-width="2"/>
<text x="945.10" y="173.85" font-size="18" text-anchor="end" fill="#000" stroke="#000" stroke-width="0.25" >6</text>
<line x1="947.40" y1="125.80" x2="953.40" y2="125.80" stroke="#000" stroke-width="2"/>
<text x="945.10" y="132.20" font-size="18" text-anchor="end" fill="#000" stroke="#000" stroke-width="0.25" >8</text>
<line x1="979.50" y1="292.40" x2="979.50" y2="297.40" stroke="#000" stroke-width="2"/>
<text transform="translate(982.90,310.90) rotate(-45)" font-size="18" text-anchor="end" stroke="#000" stroke-width="0.3">VEH</text>
<line x1="1019.30" y1="292.40" x2="1019.30" y2="297.40" stroke="#000" stroke-width="2"/>
<text transform="translate(1022.70,310.90) rotate(-45)" font-size="18" text-anchor="end" stroke="#000" stroke-width="0.3">LET</text>
<text transform="translate(926.00,204.00) rotate(-90)" font-size="18.4" text-anchor="middle" fill="#000" stroke="#000" stroke-width="0.3">EtOH intake (g/kg)</text>
<rect x="1119.85" y="218.05" width="23.7" height="74.35" fill="#FF9494" stroke="#B01D0D" stroke-width="2.3"/>
<line x1="1131.70" y1="218.05" x2="1131.70" y2="203.89" stroke="#B01D0D" stroke-width="1.6"/>
<line x1="1125.20" y1="203.89" x2="1138.20" y2="203.89" stroke="#B01D0D" stroke-width="1.6"/>
<circle cx="1132.10" cy="137.85" r="2.9" fill="#F57A72" stroke="#B01D0D" stroke-width="1.6"/>
<circle cx="1121.70" cy="221.82" r="2.9" fill="#F57A72" stroke="#B01D0D" stroke-width="1.6"/>
<circle cx="1132.10" cy="223.71" r="2.9" fill="#F57A72" stroke="#B01D0D" stroke-width="1.6"/>
<circle cx="1142.51" cy="223.71" r="2.9" fill="#F57A72" stroke="#B01D0D" stroke-width="1.6"/>
<circle cx="1126.62" cy="231.84" r="2.9" fill="#F57A72" stroke="#B01D0D" stroke-width="1.6"/>
<circle cx="1137.02" cy="236.19" r="2.9" fill="#F57A72" stroke="#B01D0D" stroke-width="1.6"/>
<circle cx="1132.10" cy="248.87" r="2.9" fill="#F57A72" stroke="#B01D0D" stroke-width="1.6"/>
<rect x="1159.65" y="204.31" width="23.7" height="88.09" fill="url(#h1)" stroke="#B01D0D" stroke-width="2.3"/>
<line x1="1171.50" y1="204.31" x2="1171.50" y2="191.82" stroke="#FF5A55" stroke-width="1.6"/>
<line x1="1165.00" y1="191.82" x2="1178.00" y2="191.82" stroke="#FF5A55" stroke-width="1.6"/>
<line x1="1171.50" y1="204.31" x2="1171.50" y2="216.81" stroke="#B01D0D" stroke-width="1.4"/>
<line x1="1165.00" y1="216.81" x2="1178.00" y2="216.81" stroke="#B01D0D" stroke-width="1.4"/>
<circle cx="1171.44" cy="166.22" r="2.9" fill="#FFE2E2" stroke="#FF5A55" stroke-width="1.6"/>
<circle cx="1171.44" cy="173.22" r="2.9" fill="#FFE2E2" stroke="#FF5A55" stroke-width="1.6"/>
<circle cx="1171.44" cy="203.85" r="2.9" fill="#FFE2E2" stroke="#FF5A55" stroke-width="1.6"/>
<circle cx="1171.44" cy="215.77" r="2.9" fill="#FFE2E2" stroke="#FF5A55" stroke-width="1.6"/>
<circle cx="1171.44" cy="223.33" r="2.9" fill="#FFE2E2" stroke="#FF5A55" stroke-width="1.6"/>
<circle cx="1171.44" cy="241.68" r="2.9" fill="#FFE2E2" stroke="#FF5A55" stroke-width="1.6"/>
<path d="M1105.60,124.80 L1105.60,292.40 L1197.60,292.40" fill="none" stroke="#000" stroke-width="2"/>
<line x1="1099.60" y1="292.40" x2="1105.60" y2="292.40" stroke="#000" stroke-width="2"/>
<text x="1097.30" y="298.80" font-size="18" text-anchor="end" fill="#000" stroke="#000" stroke-width="0.25" >0</text>
<line x1="1099.60" y1="250.75" x2="1105.60" y2="250.75" stroke="#000" stroke-width="2"/>
<text x="1097.30" y="257.15" font-size="18" text-anchor="end" fill="#000" stroke="#000" stroke-width="0.25" >2</text>
<line x1="1099.60" y1="209.10" x2="1105.60" y2="209.10" stroke="#000" stroke-width="2"/>
<text x="1097.30" y="215.50" font-size="18" text-anchor="end" fill="#000" stroke="#000" stroke-width="0.25" >4</text>
<line x1="1099.60" y1="167.45" x2="1105.60" y2="167.45" stroke="#000" stroke-width="2"/>
<text x="1097.30" y="173.85" font-size="18" text-anchor="end" fill="#000" stroke="#000" stroke-width="0.25" >6</text>
<line x1="1099.60" y1="125.80" x2="1105.60" y2="125.80" stroke="#000" stroke-width="2"/>
<text x="1097.30" y="132.20" font-size="18" text-anchor="end" fill="#000" stroke="#000" stroke-width="0.25" >8</text>
<line x1="1131.70" y1="292.40" x2="1131.70" y2="297.40" stroke="#000" stroke-width="2"/>
<text transform="translate(1135.10,310.90) rotate(-45)" font-size="18" text-anchor="end" stroke="#000" stroke-width="0.3">VEH</text>
<line x1="1171.50" y1="292.40" x2="1171.50" y2="297.40" stroke="#000" stroke-width="2"/>
<text transform="translate(1174.90,310.90) rotate(-45)" font-size="18" text-anchor="end" stroke="#000" stroke-width="0.3">LET</text>
<text transform="translate(1077.60,204.00) rotate(-90)" font-size="18.4" text-anchor="middle" fill="#000" stroke="#000" stroke-width="0.3">EtOH intake (g/kg)</text>
<text x="261.80" y="375.00" font-size="18.3" text-anchor="middle" fill="#333" letter-spacing="-0.4" stroke="#333" stroke-width="0.25" >E2</text>
<g transform="translate(259.10,422.50) scale(0.07643)">
<path d="M0,25 C-20,5 -70,-3 -132,0 C-250,8 -400,100 -418,230 C-432,330 -400,400 -330,440 C-280,470 -250,490 -225,525 C-195,560 -120,560 -85,520 C-60,490 -30,470 0,470 C30,470 60,490 85,520 C120,560 195,560 225,525 C250,490 280,470 330,440 C400,400 432,330 418,230 C400,100 250,8 132,0 C70,-3 20,5 0,25 Z" fill="#FFC0C0" stroke="#F58A8A" stroke-width="11.78"/>
<path d="M-312,330 C-330,200 -220,125 -130,125 C-70,125 -40,150 0,150 C40,150 70,125 130,125 C220,125 330,200 312,330 C300,400 200,445 0,430 C-200,445 -300,400 -312,330 Z" fill="#FFCBCB"/>
<path d="M-312,330 C-330,200 -220,125 -130,125 C-70,125 -40,150 0,150 C40,150 70,125 130,125 C220,125 330,200 312,330" fill="none" stroke="#fff" stroke-opacity="0.8" stroke-width="19.63"/>
<path d="M0,170 L-55,255 L0,340 L55,255 Z" fill="#FFD5D5"/>
<path d="M-118,165 C-105,150 -80,150 -72,165 L-90,330 C-100,300 -112,220 -118,165 Z M118,165 C105,150 80,150 72,165 L90,330 C100,300 112,220 118,165 Z" fill="#fff" fill-opacity="0.92"/>
<path d="M-245,450 C-150,380 -60,352 0,352 C60,352 150,380 245,450 C150,420 60,408 0,408 C-60,408 -150,420 -245,450 Z" fill="#FCEAF2"/>
<path d="M0,25 L0,140 M0,440 L0,470" stroke="#F58A8A" stroke-width="9.16" fill="none"/>
<path d="M-110,-205 C-105,-330 -40,-430 60,-428 C150,-425 284,-330 434,-248" fill="none" stroke="#444" stroke-width="11.78"/>
<rect x="-132" y="-48" width="44" height="8" fill="#777"/>
<rect x="-125" y="-46" width="30" height="322" fill="#A6A6A6" stroke="#7A7A7A" stroke-width="6.54"/>
<rect x="-114" y="-46" width="8" height="322" fill="#C8C8C8"/>
<line x1="-110" y1="276" x2="-110" y2="332" stroke="#444" stroke-width="10.47"/>
<circle cx="-110" cy="-190" r="21" fill="#fff" stroke="#999" stroke-width="9.16"/>
<rect x="-146" y="-168" width="72" height="122" rx="9" fill="#fff" stroke="#999" stroke-width="9.16"/>
<path d="M110,-205 C115,-330 180,-430 280,-428 C370,-425 507,-330 657,-248" fill="none" stroke="#444" stroke-width="11.78"/>
<rect x="88" y="-48" width="44" height="8" fill="#777"/>
<rect x="95" y="-46" width="30" height="322" fill="#A6A6A6" stroke="#7A7A7A" stroke-width="6.54"/>
<rect x="106" y="-46" width="8" height="322" fill="#C8C8C8"/>
<line x1="110" y1="276" x2="110" y2="332" stroke="#444" stroke-width="10.47"/>
<circle cx="110" cy="-190" r="21" fill="#fff" stroke="#999" stroke-width="9.16"/>
<rect x="74" y="-168" width="72" height="122" rx="9" fill="#fff" stroke="#999" stroke-width="9.16"/>
</g>
<line x1="303.00" y1="435.00" x2="363.75" y2="435.00" stroke="#000" stroke-width="2.3"/>
<path d="M361.75,428.60 L373.75,435.00 L361.75,441.40 Z" fill="#000"/>
<text x="311.25" y="420.00" font-size="18.3" text-anchor="start" fill="#333" letter-spacing="-0.4" stroke="#333" stroke-width="0.25" >10 min</text>
<g transform="translate(380.75,400.00) scale(0.9900)">
<path d="M9,0 L109,0 Q114.5,0 115,5 L118,30 L114.5,64 Q113.5,70.5 106,70.5 L12,70.5 Q4.5,70.5 3.8,64 L0,30 L3.2,5 Q3.8,0 9,0 Z" fill="#fff" stroke="#A5B1B4" stroke-width="1"/>
<line x1="0" y1="30" x2="118" y2="30" stroke="#9AA6AA" stroke-width="1.1"/>
<text x="57.4" y="20.6" font-size="18.3" letter-spacing="-0.8" text-anchor="middle" fill="#333">EtOH</text>
<rect x="12.6" y="30.2" width="36" height="13" fill="#fff" stroke="#9AA6AA" stroke-width="0.9"/>
<path d="M14,34.5 L20,33 L23,35 L28,32.5 L33,33.5 L37,32.3 L43,33 L47.6,34.5 L47.6,42.6 L14,42.6 Z" fill="#C58D66"/>
<polygon points="14,35 20,34 22.5,36 21.5,39.5 14.5,39.8" fill="#8C5232"/>
<polygon points="24.5,33.2 30.5,32.5 32,35.5 30,38 24.5,37.5" fill="#9A5C38"/>
<polygon points="33.5,33.8 39.5,33 41,36.8 38,38.5 33,37.5" fill="#B57A52"/>
<polygon points="41,34.5 47,34 47.5,38.8 42.5,39.2" fill="#8C5232"/>
<polygon points="14.3,39.8 20.5,39.5 21,42.6 14.3,42.6" fill="#93583A"/>
<polygon points="28,38.5 35.5,38.3 35.8,42.6 27.5,42.6" fill="#8A4F30"/>
<polygon points="42.5,39 47.6,38.8 47.6,42.6 43,42.6" fill="#8C5232"/>
<polygon points="21,36.5 27,36 28,40 22,41" fill="#D9A585"/>
<polygon points="36,38 42,38.5 42.5,42.6 36.2,42.6" fill="#D4A07E"/>
<g transform="translate(86,40.5) rotate(-27)">
<path d="M4,-4.2 L32,-3 Q34.5,0 32,3 L4,4.2 Z" fill="#F1F1F1" stroke="#C4C4C4" stroke-width="0.6"/>
<rect x="-4" y="-4.6" width="10" height="9.2" rx="1.5" fill="#4A4A4A"/>
<line x1="-10" y1="0" x2="-4" y2="0" stroke="#777" stroke-width="1.3"/>
</g>
<path d="M8,52.5 C11,51.8 14,52.6 17,52 C20,51.2 22,52.4 26,52 C30,51.5 33,52.5 37,51.8 C41,51 44,51.5 47,51 C50,49.8 53,50.6 56,49.6 C59,48.8 62,50.4 65,50 C68,49.4 70,51 73,50.2 C76,49.4 79,50.8 82,50.4 C85,49.5 87,51.2 90,50.6 C93,49.6 95,50.8 98,50.2 C101,49.2 103,51 106,50.4 C108,50 110,50.6 111.5,51 L112.5,55 C113,59 113,63 111,66.5 C90,68.2 40,68.2 10,67.6 C6,64 6,58 8,52.5 Z" fill="#BD9C77"/>
<path transform="translate(2,0)" d="M28.5,58 C28.5,54.5 32,53 37,53 C41,53 43,54 45,54.2 L46.5,53.2 L47.3,54.5 C48.5,55 50,56.5 49.8,57.5 C48,58.5 46,59 44.5,59.5 L44,61 L43,59.8 C40,60.8 35,61 31.5,60.6 L30.5,61 C29,60.5 28.5,59.5 28.5,58 Z" fill="#46403E"/>
<circle cx="48.3" cy="54.3" r="0.9" fill="#D9A0A0"/>
<path d="M29,60 C26,61 23,63 27,64.5 C31,65.5 36,64 40,65" fill="none" stroke="#B48080" stroke-width="0.5"/>
</g>
<text x="627.10" y="375.00" font-size="18.3" text-anchor="middle" fill="#333" letter-spacing="-0.4" stroke="#333" stroke-width="0.25" >membrane-only E2</text>
<g transform="translate(603.50,422.50) scale(0.07679)">
<path d="M0,25 C-20,5 -70,-3 -132,0 C-250,8 -400,100 -418,230 C-432,330 -400,400 -330,440 C-280,470 -250,490 -225,525 C-195,560 -120,560 -85,520 C-60,490 -30,470 0,470 C30,470 60,490 85,520 C120,560 195,560 225,525 C250,490 280,470 330,440 C400,400 432,330 418,230 C400,100 250,8 132,0 C70,-3 20,5 0,25 Z" fill="#FFC0C0" stroke="#F58A8A" stroke-width="11.72"/>
<path d="M-312,330 C-330,200 -220,125 -130,125 C-70,125 -40,150 0,150 C40,150 70,125 130,125 C220,125 330,200 312,330 C300,400 200,445 0,430 C-200,445 -300,400 -312,330 Z" fill="#FFCBCB"/>
<path d="M-312,330 C-330,200 -220,125 -130,125 C-70,125 -40,150 0,150 C40,150 70,125 130,125 C220,125 330,200 312,330" fill="none" stroke="#fff" stroke-opacity="0.8" stroke-width="19.53"/>
<path d="M0,170 L-55,255 L0,340 L55,255 Z" fill="#FFD5D5"/>
<path d="M-118,165 C-105,150 -80,150 -72,165 L-90,330 C-100,300 -112,220 -118,165 Z M118,165 C105,150 80,150 72,165 L90,330 C100,300 112,220 118,165 Z" fill="#fff" fill-opacity="0.92"/>
<path d="M-245,450 C-150,380 -60,352 0,352 C60,352 150,380 245,450 C150,420 60,408 0,408 C-60,408 -150,420 -245,450 Z" fill="#FCEAF2"/>
<path d="M0,25 L0,140 M0,440 L0,470" stroke="#F58A8A" stroke-width="9.12" fill="none"/>
<path d="M-110,-205 C-105,-330 -40,-430 60,-428 C150,-425 284,-330 434,-248" fill="none" stroke="#444" stroke-width="11.72"/>
<rect x="-132" y="-48" width="44" height="8" fill="#777"/>
<rect x="-125" y="-46" width="30" height="322" fill="#A6A6A6" stroke="#7A7A7A" stroke-width="6.51"/>
<rect x="-114" y="-46" width="8" height="322" fill="#C8C8C8"/>
<line x1="-110" y1="276" x2="-110" y2="332" stroke="#444" stroke-width="10.42"/>
<circle cx="-110" cy="-190" r="21" fill="#fff" stroke="#999" stroke-width="9.12"/>
<rect x="-146" y="-168" width="72" height="122" rx="9" fill="#fff" stroke="#999" stroke-width="9.12"/>
<path d="M110,-205 C115,-330 180,-430 280,-428 C370,-425 507,-330 657,-248" fill="none" stroke="#444" stroke-width="11.72"/>
<rect x="88" y="-48" width="44" height="8" fill="#777"/>
<rect x="95" y="-46" width="30" height="322" fill="#A6A6A6" stroke="#7A7A7A" stroke-width="6.51"/>
<rect x="106" y="-46" width="8" height="322" fill="#C8C8C8"/>
<line x1="110" y1="276" x2="110" y2="332" stroke="#444" stroke-width="10.42"/>
<circle cx="110" cy="-190" r="21" fill="#fff" stroke="#999" stroke-width="9.12"/>
<rect x="74" y="-168" width="72" height="122" rx="9" fill="#fff" stroke="#999" stroke-width="9.12"/>
</g>
<line x1="650.00" y1="435.00" x2="710.50" y2="435.00" stroke="#000" stroke-width="2.3"/>
<path d="M708.50,428.60 L720.50,435.00 L708.50,441.40 Z" fill="#000"/>
<text x="655.00" y="420.00" font-size="18.3" text-anchor="start" fill="#333" letter-spacing="-0.4" stroke="#333" stroke-width="0.25" >10 min</text>
<g transform="translate(727.00,400.00) scale(0.9900)">
<path d="M9,0 L109,0 Q114.5,0 115,5 L118,30 L114.5,64 Q113.5,70.5 106,70.5 L12,70.5 Q4.5,70.5 3.8,64 L0,30 L3.2,5 Q3.8,0 9,0 Z" fill="#fff" stroke="#A5B1B4" stroke-width="1"/>
<line x1="0" y1="30" x2="118" y2="30" stroke="#9AA6AA" stroke-width="1.1"/>
<text x="57.4" y="20.6" font-size="18.3" letter-spacing="-0.8" text-anchor="middle" fill="#333">EtOH</text>
<rect x="12.6" y="30.2" width="36" height="13" fill="#fff" stroke="#9AA6AA" stroke-width="0.9"/>
<path d="M14,34.5 L20,33 L23,35 L28,32.5 L33,33.5 L37,32.3 L43,33 L47.6,34.5 L47.6,42.6 L14,42.6 Z" fill="#C58D66"/>
<polygon points="14,35 20,34 22.5,36 21.5,39.5 14.5,39.8" fill="#8C5232"/>
<polygon points="24.5,33.2 30.5,32.5 32,35.5 30,38 24.5,37.5" fill="#9A5C38"/>
<polygon points="33.5,33.8 39.5,33 41,36.8 38,38.5 33,37.5" fill="#B57A52"/>
<polygon points="41,34.5 47,34 47.5,38.8 42.5,39.2" fill="#8C5232"/>
<polygon points="14.3,39.8 20.5,39.5 21,42.6 14.3,42.6" fill="#93583A"/>
<polygon points="28,38.5 35.5,38.3 35.8,42.6 27.5,42.6" fill="#8A4F30"/>
<polygon points="42.5,39 47.6,38.8 47.6,42.6 43,42.6" fill="#8C5232"/>
<polygon points="21,36.5 27,36 28,40 22,41" fill="#D9A585"/>
<polygon points="36,38 42,38.5 42.5,42.6 36.2,42.6" fill="#D4A07E"/>
<g transform="translate(86,40.5) rotate(-27)">
<path d="M4,-4.2 L32,-3 Q34.5,0 32,3 L4,4.2 Z" fill="#F1F1F1" stroke="#C4C4C4" stroke-width="0.6"/>
<rect x="-4" y="-4.6" width="10" height="9.2" rx="1.5" fill="#4A4A4A"/>
<line x1="-10" y1="0" x2="-4" y2="0" stroke="#777" stroke-width="1.3"/>
</g>
<path d="M8,52.5 C11,51.8 14,52.6 17,52 C20,51.2 22,52.4 26,52 C30,51.5 33,52.5 37,51.8 C41,51 44,51.5 47,51 C50,49.8 53,50.6 56,49.6 C59,48.8 62,50.4 65,50 C68,49.4 70,51 73,50.2 C76,49.4 79,50.8 82,50.4 C85,49.5 87,51.2 90,50.6 C93,49.6 95,50.8 98,50.2 C101,49.2 103,51 106,50.4 C108,50 110,50.6 111.5,51 L112.5,55 C113,59 113,63 111,66.5 C90,68.2 40,68.2 10,67.6 C6,64 6,58 8,52.5 Z" fill="#BD9C77"/>
<path transform="translate(2,0)" d="M28.5,58 C28.5,54.5 32,53 37,53 C41,53 43,54 45,54.2 L46.5,53.2 L47.3,54.5 C48.5,55 50,56.5 49.8,57.5 C48,58.5 46,59 44.5,59.5 L44,61 L43,59.8 C40,60.8 35,61 31.5,60.6 L30.5,61 C29,60.5 28.5,59.5 28.5,58 Z" fill="#46403E"/>
<circle cx="48.3" cy="54.3" r="0.9" fill="#D9A0A0"/>
<path d="M29,60 C26,61 23,63 27,64.5 C31,65.5 36,64 40,65" fill="none" stroke="#B48080" stroke-width="0.5"/>
</g>
<text x="984.40" y="374.00" font-size="18.3" text-anchor="middle" fill="#333" letter-spacing="-0.4" stroke="#333" stroke-width="0.25" >E2</text>
<g transform="translate(976.40,422.20) scale(0.07714)">
<path d="M0,25 C-20,5 -70,-3 -132,0 C-250,8 -400,100 -418,230 C-432,330 -400,400 -330,440 C-280,470 -250,490 -225,525 C-195,560 -120,560 -85,520 C-60,490 -30,470 0,470 C30,470 60,490 85,520 C120,560 195,560 225,525 C250,490 280,470 330,440 C400,400 432,330 418,230 C400,100 250,8 132,0 C70,-3 20,5 0,25 Z" fill="#FFC0C0" stroke="#F58A8A" stroke-width="11.67"/>
<path d="M-312,330 C-330,200 -220,125 -130,125 C-70,125 -40,150 0,150 C40,150 70,125 130,125 C220,125 330,200 312,330 C300,400 200,445 0,430 C-200,445 -300,400 -312,330 Z" fill="#FFCBCB"/>
<path d="M-312,330 C-330,200 -220,125 -130,125 C-70,125 -40,150 0,150 C40,150 70,125 130,125 C220,125 330,200 312,330" fill="none" stroke="#fff" stroke-opacity="0.8" stroke-width="19.44"/>
<path d="M0,170 L-55,255 L0,340 L55,255 Z" fill="#FFD5D5"/>
<path d="M-118,165 C-105,150 -80,150 -72,165 L-90,330 C-100,300 -112,220 -118,165 Z M118,165 C105,150 80,150 72,165 L90,330 C100,300 112,220 118,165 Z" fill="#fff" fill-opacity="0.92"/>
<path d="M-245,450 C-150,380 -60,352 0,352 C60,352 150,380 245,450 C150,420 60,408 0,408 C-60,408 -150,420 -245,450 Z" fill="#FCEAF2"/>
<path d="M0,25 L0,140 M0,440 L0,470" stroke="#F58A8A" stroke-width="9.07" fill="none"/>
<path d="M-110,-205 C-105,-330 -40,-430 60,-428 C150,-425 284,-330 434,-248" fill="none" stroke="#444" stroke-width="11.67"/>
<rect x="-132" y="-48" width="44" height="8" fill="#777"/>
<rect x="-125" y="-46" width="30" height="322" fill="#A6A6A6" stroke="#7A7A7A" stroke-width="6.48"/>
<rect x="-114" y="-46" width="8" height="322" fill="#C8C8C8"/>
<line x1="-110" y1="276" x2="-110" y2="332" stroke="#444" stroke-width="10.37"/>
<circle cx="-110" cy="-190" r="21" fill="#fff" stroke="#999" stroke-width="9.07"/>
<rect x="-146" y="-168" width="72" height="122" rx="9" fill="#fff" stroke="#999" stroke-width="9.07"/>
<path d="M110,-205 C115,-330 180,-430 280,-428 C370,-425 507,-330 657,-248" fill="none" stroke="#444" stroke-width="11.67"/>
<rect x="88" y="-48" width="44" height="8" fill="#777"/>
<rect x="95" y="-46" width="30" height="322" fill="#A6A6A6" stroke="#7A7A7A" stroke-width="6.48"/>
<rect x="106" y="-46" width="8" height="322" fill="#C8C8C8"/>
<line x1="110" y1="276" x2="110" y2="332" stroke="#444" stroke-width="10.37"/>
<circle cx="110" cy="-190" r="21" fill="#fff" stroke="#999" stroke-width="9.07"/>
<rect x="74" y="-168" width="72" height="122" rx="9" fill="#fff" stroke="#999" stroke-width="9.07"/>
</g>
<line x1="1024.00" y1="435.00" x2="1084.80" y2="435.00" stroke="#000" stroke-width="2.3"/>
<path d="M1082.80,428.60 L1094.80,435.00 L1082.80,441.40 Z" fill="#000"/>
<text x="1026.00" y="421.00" font-size="18.3" text-anchor="start" fill="#333" letter-spacing="-0.4" stroke="#333" stroke-width="0.25" >10 min</text>
<rect x="1134.50" y="404.35" width="15.80" height="62.10" fill="none" stroke="#000" stroke-width="2.6"/>
<rect x="1111.00" y="427.85" width="62.80" height="15.10" fill="none" stroke="#000" stroke-width="2.6"/>
<text x="2.10" y="469.00" font-size="24" text-anchor="start" fill="#000" font-weight="bold" >f</text>
<text x="96.50" y="493.60" font-size="18.3" text-anchor="middle" fill="#333" letter-spacing="-0.4" stroke="#333" stroke-width="0.25" >Low E2 F</text>
<g transform="translate(81.60,565.30) scale(0.13500)">
<path d="M0,25 C-20,5 -70,-3 -132,0 C-250,8 -400,100 -418,230 C-432,330 -400,400 -330,440 C-280,470 -250,490 -225,525 C-195,560 -120,560 -85,520 C-60,490 -30,470 0,470 C30,470 60,490 85,520 C120,560 195,560 225,525 C250,490 280,470 330,440 C400,400 432,330 418,230 C400,100 250,8 132,0 C70,-3 20,5 0,25 Z" fill="#FFC0C0" stroke="#F58A8A" stroke-width="6.67"/>
<path d="M-312,330 C-330,200 -220,125 -130,125 C-70,125 -40,150 0,150 C40,150 70,125 130,125 C220,125 330,200 312,330 C300,400 200,445 0,430 C-200,445 -300,400 -312,330 Z" fill="#FFCBCB"/>
<path d="M-312,330 C-330,200 -220,125 -130,125 C-70,125 -40,150 0,150 C40,150 70,125 130,125 C220,125 330,200 312,330" fill="none" stroke="#fff" stroke-opacity="0.8" stroke-width="11.11"/>
<path d="M0,170 L-55,255 L0,340 L55,255 Z" fill="#FFD5D5"/>
<path d="M-118,165 C-105,150 -80,150 -72,165 L-90,330 C-100,300 -112,220 -118,165 Z M118,165 C105,150 80,150 72,165 L90,330 C100,300 112,220 118,165 Z" fill="#fff" fill-opacity="0.92"/>
<path d="M-245,450 C-150,380 -60,352 0,352 C60,352 150,380 245,450 C150,420 60,408 0,408 C-60,408 -150,420 -245,450 Z" fill="#FCEAF2"/>
<path d="M0,25 L0,140 M0,440 L0,470" stroke="#F58A8A" stroke-width="5.19" fill="none"/>
<path d="M-110,-205 C-105,-330 -40,-430 60,-428 C150,-425 284,-330 434,-248" fill="none" stroke="#444" stroke-width="6.67"/>
<rect x="-132" y="-48" width="44" height="8" fill="#777"/>
<rect x="-125" y="-46" width="30" height="322" fill="#A6A6A6" stroke="#7A7A7A" stroke-width="3.70"/>
<rect x="-114" y="-46" width="8" height="322" fill="#C8C8C8"/>
<line x1="-110" y1="276" x2="-110" y2="332" stroke="#444" stroke-width="5.93"/>
<circle cx="-110" cy="-190" r="21" fill="#fff" stroke="#999" stroke-width="5.19"/>
<rect x="-146" y="-168" width="72" height="122" rx="9" fill="#fff" stroke="#999" stroke-width="5.19"/>
<path d="M110,-205 C115,-330 180,-430 280,-428 C370,-425 507,-330 657,-248" fill="none" stroke="#444" stroke-width="6.67"/>
<rect x="88" y="-48" width="44" height="8" fill="#777"/>
<rect x="95" y="-46" width="30" height="322" fill="#A6A6A6" stroke="#7A7A7A" stroke-width="3.70"/>
<rect x="106" y="-46" width="8" height="322" fill="#C8C8C8"/>
<line x1="110" y1="276" x2="110" y2="332" stroke="#444" stroke-width="5.93"/>
<circle cx="110" cy="-190" r="21" fill="#fff" stroke="#999" stroke-width="5.19"/>
<rect x="74" y="-168" width="72" height="122" rx="9" fill="#fff" stroke="#999" stroke-width="5.19"/>
</g>
<text x="96.70" y="669.30" font-size="18.3" text-anchor="middle" fill="#333" letter-spacing="-0.4" stroke="#333" stroke-width="0.25" >+ intra-BNST E2 or</text>
<text x="98.50" y="689.60" font-size="18.3" text-anchor="middle" fill="#333" letter-spacing="-0.4" stroke="#333" stroke-width="0.25" >membrane-only E2</text>
<text x="96.50" y="708.70" font-size="18.3" text-anchor="middle" fill="#333" letter-spacing="-0.4" stroke="#333" stroke-width="0.25" >(mE2)</text>
<text x="198.30" y="541.60" font-size="24" text-anchor="start" fill="#000" font-weight="bold" >g</text>
<text x="293.60" y="513.40" font-size="18" text-anchor="middle" fill="#2a2a2a" stroke="#2a2a2a" stroke-width="0.25" >1 hr</text>
<text x="446.20" y="513.40" font-size="18" text-anchor="middle" fill="#2a2a2a" stroke="#2a2a2a" stroke-width="0.25" >2 hr</text>
<rect x="262.55" y="704.17" width="23.7" height="15.63" fill="#FFE4E4" stroke="#FF5A55" stroke-width="2.3"/>
<line x1="274.40" y1="704.17" x2="274.40" y2="698.75" stroke="#FF5A55" stroke-width="1.6"/>
<line x1="267.90" y1="698.75" x2="280.90" y2="698.75" stroke="#FF5A55" stroke-width="1.6"/>
<circle cx="274.57" cy="677.68" r="2.9" fill="#FFE2E2" stroke="#FF5A55" stroke-width="1.6"/>
<circle cx="264.19" cy="704.49" r="2.9" fill="#FFE2E2" stroke="#FF5A55" stroke-width="1.6"/>
<circle cx="270.68" cy="699.73" r="2.9" fill="#FFE2E2" stroke="#FF5A55" stroke-width="1.6"/>
<circle cx="277.59" cy="709.03" r="2.9" fill="#FFE2E2" stroke="#FF5A55" stroke-width="1.6"/>
<circle cx="284.73" cy="700.81" r="2.9" fill="#FFE2E2" stroke="#FF5A55" stroke-width="1.6"/>
<circle cx="270.68" cy="709.46" r="2.9" fill="#FFE2E2" stroke="#FF5A55" stroke-width="1.6"/>
<circle cx="284.73" cy="709.03" r="2.9" fill="#FFE2E2" stroke="#FF5A55" stroke-width="1.6"/>
<circle cx="274.57" cy="716.59" r="2.9" fill="#FFE2E2" stroke="#FF5A55" stroke-width="1.6"/>
<rect x="302.05" y="666.04" width="23.7" height="53.76" fill="url(#h2)" stroke="#FF5A55" stroke-width="2.3"/>
<line x1="313.90" y1="666.04" x2="313.90" y2="655.62" stroke="#FF5A55" stroke-width="1.6"/>
<line x1="307.40" y1="655.62" x2="320.40" y2="655.62" stroke="#FF5A55" stroke-width="1.6"/>
<line x1="313.90" y1="666.04" x2="313.90" y2="676.46" stroke="#FF5A55" stroke-width="1.4"/>
<line x1="307.40" y1="676.46" x2="320.40" y2="676.46" stroke="#FF5A55" stroke-width="1.4"/>
<circle cx="313.92" cy="641.35" r="2.9" fill="#F0685A" stroke="#A3180C" stroke-width="1.6"/>
<circle cx="304.19" cy="646.97" r="2.9" fill="#F0685A" stroke="#A3180C" stroke-width="1.6"/>
<circle cx="324.30" cy="646.97" r="2.9" fill="#F0685A" stroke="#A3180C" stroke-width="1.6"/>
<circle cx="313.92" cy="653.24" r="2.9" fill="#F0685A" stroke="#A3180C" stroke-width="1.6"/>
<circle cx="313.92" cy="662.97" r="2.9" fill="#F0685A" stroke="#A3180C" stroke-width="1.6"/>
<circle cx="313.92" cy="696.49" r="2.9" fill="#F0685A" stroke="#A3180C" stroke-width="1.6"/>
<circle cx="313.92" cy="713.35" r="2.9" fill="#F0685A" stroke="#A3180C" stroke-width="1.6"/>
<path d="M248.00,552.10 L248.00,719.80 L340.00,719.80" fill="none" stroke="#000" stroke-width="2"/>
<line x1="242.00" y1="719.80" x2="248.00" y2="719.80" stroke="#000" stroke-width="2"/>
<text x="239.70" y="726.20" font-size="18" text-anchor="end" fill="#000" stroke="#000" stroke-width="0.25" >0</text>
<line x1="242.00" y1="678.12" x2="248.00" y2="678.12" stroke="#000" stroke-width="2"/>
<text x="239.70" y="684.52" font-size="18" text-anchor="end" fill="#000" stroke="#000" stroke-width="0.25" >2</text>
<line x1="242.00" y1="636.45" x2="248.00" y2="636.45" stroke="#000" stroke-width="2"/>
<text x="239.70" y="642.85" font-size="18" text-anchor="end" fill="#000" stroke="#000" stroke-width="0.25" >4</text>
<line x1="242.00" y1="594.77" x2="248.00" y2="594.77" stroke="#000" stroke-width="2"/>
<text x="239.70" y="601.17" font-size="18" text-anchor="end" fill="#000" stroke="#000" stroke-width="0.25" >6</text>
<line x1="242.00" y1="553.10" x2="248.00" y2="553.10" stroke="#000" stroke-width="2"/>
<text x="239.70" y="559.50" font-size="18" text-anchor="end" fill="#000" stroke="#000" stroke-width="0.25" >8</text>
<line x1="274.40" y1="719.80" x2="274.40" y2="726.10" stroke="#000" stroke-width="2"/>
<text transform="translate(277.80,740.40) rotate(-45)" font-size="18" text-anchor="end" stroke="#000" stroke-width="0.3">VEH</text>
<line x1="313.90" y1="719.80" x2="313.90" y2="726.10" stroke="#000" stroke-width="2"/>
<text transform="translate(317.30,740.40) rotate(-45)" font-size="18" text-anchor="end" stroke="#000" stroke-width="0.3">E2</text>
<text transform="translate(221.20,632.80) rotate(-90)" font-size="18.4" text-anchor="middle" fill="#000" stroke="#000" stroke-width="0.3">EtOH intake (g/kg)</text>
<path d="M274.60,669.50 L274.60,623.60 L313.90,623.60 L313.90,632.70" fill="none" stroke="#000" stroke-width="2"/>
<text x="294.40" y="628.00" font-size="30" text-anchor="middle" fill="#000" font-weight="bold" >**</text>
<rect x="415.55" y="664.58" width="23.7" height="55.22" fill="#FFE4E4" stroke="#FF5A55" stroke-width="2.3"/>
<line x1="427.40" y1="664.58" x2="427.40" y2="658.33" stroke="#FF5A55" stroke-width="1.6"/>
<line x1="420.90" y1="658.33" x2="433.90" y2="658.33" stroke="#FF5A55" stroke-width="1.6"/>
<circle cx="427.00" cy="636.59" r="2.9" fill="#FFE2E2" stroke="#FF5A55" stroke-width="1.6"/>
<circle cx="427.00" cy="653.89" r="2.9" fill="#FFE2E2" stroke="#FF5A55" stroke-width="1.6"/>
<circle cx="417.05" cy="662.97" r="2.9" fill="#FFE2E2" stroke="#FF5A55" stroke-width="1.6"/>
<circle cx="437.16" cy="659.95" r="2.9" fill="#FFE2E2" stroke="#FF5A55" stroke-width="1.6"/>
<circle cx="422.03" cy="667.30" r="2.9" fill="#FFE2E2" stroke="#FF5A55" stroke-width="1.6"/>
<circle cx="432.41" cy="667.30" r="2.9" fill="#FFE2E2" stroke="#FF5A55" stroke-width="1.6"/>
<circle cx="427.00" cy="674.22" r="2.9" fill="#FFE2E2" stroke="#FF5A55" stroke-width="1.6"/>
<circle cx="417.05" cy="676.38" r="2.9" fill="#FFE2E2" stroke="#FF5A55" stroke-width="1.6"/>
<circle cx="437.16" cy="675.08" r="2.9" fill="#FFE2E2" stroke="#FF5A55" stroke-width="1.6"/>
<rect x="455.05" y="623.53" width="23.7" height="96.27" fill="url(#h2)" stroke="#FF5A55" stroke-width="2.3"/>
<line x1="466.90" y1="623.53" x2="466.90" y2="608.94" stroke="#FF5A55" stroke-width="1.6"/>
<line x1="460.40" y1="608.94" x2="473.40" y2="608.94" stroke="#FF5A55" stroke-width="1.6"/>
<line x1="466.90" y1="623.53" x2="466.90" y2="638.12" stroke="#FF5A55" stroke-width="1.4"/>
<line x1="460.40" y1="638.12" x2="473.40" y2="638.12" stroke="#FF5A55" stroke-width="1.4"/>
<circle cx="466.35" cy="561.78" r="2.9" fill="#F0685A" stroke="#A3180C" stroke-width="1.6"/>
<circle cx="466.35" cy="604.16" r="2.9" fill="#F0685A" stroke="#A3180C" stroke-width="1.6"/>
<circle cx="466.35" cy="612.81" r="2.9" fill="#F0685A" stroke="#A3180C" stroke-width="1.6"/>
<circle cx="460.51" cy="627.95" r="2.9" fill="#F0685A" stroke="#A3180C" stroke-width="1.6"/>
<circle cx="472.41" cy="622.97" r="2.9" fill="#F0685A" stroke="#A3180C" stroke-width="1.6"/>
<circle cx="466.35" cy="661.46" r="2.9" fill="#F0685A" stroke="#A3180C" stroke-width="1.6"/>
<circle cx="466.35" cy="671.19" r="2.9" fill="#F0685A" stroke="#A3180C" stroke-width="1.6"/>
<path d="M401.00,552.10 L401.00,719.80 L493.00,719.80" fill="none" stroke="#000" stroke-width="2"/>
<line x1="395.00" y1="719.80" x2="401.00" y2="719.80" stroke="#000" stroke-width="2"/>
<text x="392.70" y="726.20" font-size="18" text-anchor="end" fill="#000" stroke="#000" stroke-width="0.25" >0</text>
<line x1="395.00" y1="678.12" x2="401.00" y2="678.12" stroke="#000" stroke-width="2"/>
<text x="392.70" y="684.52" font-size="18" text-anchor="end" fill="#000" stroke="#000" stroke-width="0.25" >2</text>
<line x1="395.00" y1="636.45" x2="401.00" y2="636.45" stroke="#000" stroke-width="2"/>
<text x="392.70" y="642.85" font-size="18" text-anchor="end" fill="#000" stroke="#000" stroke-width="0.25" >4</text>
<line x1="395.00" y1="594.77" x2="401.00" y2="594.77" stroke="#000" stroke-width="2"/>
<text x="392.70" y="601.17" font-size="18" text-anchor="end" fill="#000" stroke="#000" stroke-width="0.25" >6</text>
<line x1="395.00" y1="553.10" x2="401.00" y2="553.10" stroke="#000" stroke-width="2"/>
<text x="392.70" y="559.50" font-size="18" text-anchor="end" fill="#000" stroke="#000" stroke-width="0.25" >8</text>
<line x1="427.40" y1="719.80" x2="427.40" y2="726.10" stroke="#000" stroke-width="2"/>
<text transform="translate(430.80,740.40) rotate(-45)" font-size="18" text-anchor="end" stroke="#000" stroke-width="0.3">VEH</text>
<line x1="466.90" y1="719.80" x2="466.90" y2="726.10" stroke="#000" stroke-width="2"/>
<text transform="translate(470.30,740.40) rotate(-45)" font-size="18" text-anchor="end" stroke="#000" stroke-width="0.3">E2</text>
<text transform="translate(372.80,632.80) rotate(-90)" font-size="18.4" text-anchor="middle" fill="#000" stroke="#000" stroke-width="0.3">EtOH intake (g/kg)</text>
<path d="M426.80,628.40 L426.80,544.00 L466.60,544.00 L466.60,553.80" fill="none" stroke="#000" stroke-width="2"/>
<text x="446.90" y="547.00" font-size="30" text-anchor="middle" fill="#000" font-weight="bold" >*</text>
<text x="543.00" y="541.90" font-size="24" text-anchor="start" fill="#000" font-weight="bold" >h</text>
<text x="645.00" y="513.40" font-size="18" text-anchor="middle" fill="#2a2a2a" stroke="#2a2a2a" stroke-width="0.25" >1 hr</text>
<text x="796.70" y="513.40" font-size="18" text-anchor="middle" fill="#2a2a2a" stroke="#2a2a2a" stroke-width="0.25" >2 hr</text>
<rect x="614.85" y="694.79" width="23.7" height="25.00" fill="#FFE4E4" stroke="#FF5A55" stroke-width="2.3"/>
<line x1="626.70" y1="694.79" x2="626.70" y2="689.17" stroke="#FF5A55" stroke-width="1.6"/>
<line x1="620.20" y1="689.17" x2="633.20" y2="689.17" stroke="#FF5A55" stroke-width="1.6"/>
<circle cx="627.11" cy="658.22" r="2.9" fill="#FFE2E2" stroke="#FF5A55" stroke-width="1.6"/>
<circle cx="623.65" cy="678.97" r="2.9" fill="#FFE2E2" stroke="#FF5A55" stroke-width="1.6"/>
<circle cx="630.78" cy="679.84" r="2.9" fill="#FFE2E2" stroke="#FF5A55" stroke-width="1.6"/>
<circle cx="619.76" cy="687.19" r="2.9" fill="#FFE2E2" stroke="#FF5A55" stroke-width="1.6"/>
<circle cx="627.11" cy="693.24" r="2.9" fill="#FFE2E2" stroke="#FF5A55" stroke-width="1.6"/>
<circle cx="633.81" cy="699.73" r="2.9" fill="#FFE2E2" stroke="#FF5A55" stroke-width="1.6"/>
<circle cx="623.65" cy="700.38" r="2.9" fill="#FFE2E2" stroke="#FF5A55" stroke-width="1.6"/>
<circle cx="616.73" cy="704.49" r="2.9" fill="#FFE2E2" stroke="#FF5A55" stroke-width="1.6"/>
<circle cx="623.65" cy="706.86" r="2.9" fill="#FFE2E2" stroke="#FF5A55" stroke-width="1.6"/>
<circle cx="630.78" cy="707.30" r="2.9" fill="#FFE2E2" stroke="#FF5A55" stroke-width="1.6"/>
<circle cx="637.27" cy="707.30" r="2.9" fill="#FFE2E2" stroke="#FF5A55" stroke-width="1.6"/>
<circle cx="617.16" cy="713.35" r="2.9" fill="#FFE2E2" stroke="#FF5A55" stroke-width="1.6"/>
<rect x="654.35" y="676.04" width="23.7" height="43.76" fill="url(#h2)" stroke="#FF5A55" stroke-width="2.3"/>
<line x1="666.20" y1="676.04" x2="666.20" y2="669.58" stroke="#FF5A55" stroke-width="1.6"/>
<line x1="659.70" y1="669.58" x2="672.70" y2="669.58" stroke="#FF5A55" stroke-width="1.6"/>
<line x1="666.20" y1="676.04" x2="666.20" y2="682.50" stroke="#FF5A55" stroke-width="1.4"/>
<line x1="659.70" y1="682.50" x2="672.70" y2="682.50" stroke="#FF5A55" stroke-width="1.4"/>
<circle cx="666.89" cy="635.51" r="2.9" fill="#F0685A" stroke="#A3180C" stroke-width="1.6"/>
<circle cx="657.16" cy="653.89" r="2.9" fill="#F0685A" stroke="#A3180C" stroke-width="1.6"/>
<circle cx="666.89" cy="659.73" r="2.9" fill="#F0685A" stroke="#A3180C" stroke-width="1.6"/>
<circle cx="657.16" cy="674.86" r="2.9" fill="#F0685A" stroke="#A3180C" stroke-width="1.6"/>
<circle cx="666.89" cy="671.62" r="2.9" fill="#F0685A" stroke="#A3180C" stroke-width="1.6"/>
<circle cx="677.05" cy="669.89" r="2.9" fill="#F0685A" stroke="#A3180C" stroke-width="1.6"/>
<circle cx="661.49" cy="680.27" r="2.9" fill="#F0685A" stroke="#A3180C" stroke-width="1.6"/>
<circle cx="671.22" cy="682.00" r="2.9" fill="#F0685A" stroke="#A3180C" stroke-width="1.6"/>
<circle cx="666.89" cy="685.68" r="2.9" fill="#F0685A" stroke="#A3180C" stroke-width="1.6"/>
<circle cx="677.05" cy="682.43" r="2.9" fill="#F0685A" stroke="#A3180C" stroke-width="1.6"/>
<circle cx="661.49" cy="694.32" r="2.9" fill="#F0685A" stroke="#A3180C" stroke-width="1.6"/>
<circle cx="666.89" cy="693.68" r="2.9" fill="#F0685A" stroke="#A3180C" stroke-width="1.6"/>
<circle cx="677.05" cy="691.51" r="2.9" fill="#F0685A" stroke="#A3180C" stroke-width="1.6"/>
<circle cx="666.89" cy="710.97" r="2.9" fill="#F0685A" stroke="#A3180C" stroke-width="1.6"/>
<path d="M600.30,552.10 L600.30,719.80 L692.30,719.80" fill="none" stroke="#000" stroke-width="2"/>
<line x1="594.30" y1="719.80" x2="600.30" y2="719.80" stroke="#000" stroke-width="2"/>
<text x="592.00" y="726.20" font-size="18" text-anchor="end" fill="#000" stroke="#000" stroke-width="0.25" >0</text>
<line x1="594.30" y1="678.12" x2="600.30" y2="678.12" stroke="#000" stroke-width="2"/>
<text x="592.00" y="684.52" font-size="18" text-anchor="end" fill="#000" stroke="#000" stroke-width="0.25" >2</text>
<line x1="594.30" y1="636.45" x2="600.30" y2="636.45" stroke="#000" stroke-width="2"/>
<text x="592.00" y="642.85" font-size="18" text-anchor="end" fill="#000" stroke="#000" stroke-width="0.25" >4</text>
<line x1="594.30" y1="594.77" x2="600.30" y2="594.77" stroke="#000" stroke-width="2"/>
<text x="592.00" y="601.17" font-size="18" text-anchor="end" fill="#000" stroke="#000" stroke-width="0.25" >6</text>
<line x1="594.30" y1="553.10" x2="600.30" y2="553.10" stroke="#000" stroke-width="2"/>
<text x="592.00" y="559.50" font-size="18" text-anchor="end" fill="#000" stroke="#000" stroke-width="0.25" >8</text>
<line x1="626.70" y1="719.80" x2="626.70" y2="726.10" stroke="#000" stroke-width="2"/>
<text transform="translate(630.10,740.40) rotate(-45)" font-size="18" text-anchor="end" stroke="#000" stroke-width="0.3">VEH</text>
<line x1="666.20" y1="719.80" x2="666.20" y2="726.10" stroke="#000" stroke-width="2"/>
<text transform="translate(669.60,740.40) rotate(-45)" font-size="18" text-anchor="end" stroke="#000" stroke-width="0.3">mE2</text>
<text transform="translate(572.00,632.00) rotate(-90)" font-size="18.4" text-anchor="middle" fill="#000" stroke="#000" stroke-width="0.3">EtOH Intake (g/kg)</text>
<path d="M627.10,637.00 L627.10,602.90 L666.90,602.90 L666.90,617.00" fill="none" stroke="#000" stroke-width="2"/>
<text x="646.80" y="606.20" font-size="30" text-anchor="middle" fill="#000" font-weight="bold" >*</text>
<rect x="780.25" y="673.12" width="23.7" height="46.68" fill="#FFE4E4" stroke="#FF5A55" stroke-width="2.3"/>
<line x1="792.10" y1="673.12" x2="792.10" y2="664.79" stroke="#FF5A55" stroke-width="1.6"/>
<line x1="785.60" y1="664.79" x2="798.60" y2="664.79" stroke="#FF5A55" stroke-width="1.6"/>
<circle cx="791.62" cy="619.30" r="2.9" fill="#FFE2E2" stroke="#FF5A55" stroke-width="1.6"/>
<circle cx="791.62" cy="656.49" r="2.9" fill="#FFE2E2" stroke="#FF5A55" stroke-width="1.6"/>
<circle cx="781.89" cy="664.05" r="2.9" fill="#FFE2E2" stroke="#FF5A55" stroke-width="1.6"/>
<circle cx="791.62" cy="668.38" r="2.9" fill="#FFE2E2" stroke="#FF5A55" stroke-width="1.6"/>
<circle cx="801.78" cy="669.03" r="2.9" fill="#FFE2E2" stroke="#FF5A55" stroke-width="1.6"/>
<circle cx="781.89" cy="672.05" r="2.9" fill="#FFE2E2" stroke="#FF5A55" stroke-width="1.6"/>
<circle cx="787.30" cy="675.51" r="2.9" fill="#FFE2E2" stroke="#FF5A55" stroke-width="1.6"/>
<circle cx="795.95" cy="675.51" r="2.9" fill="#FFE2E2" stroke="#FF5A55" stroke-width="1.6"/>
<circle cx="801.78" cy="674.86" r="2.9" fill="#FFE2E2" stroke="#FF5A55" stroke-width="1.6"/>
<circle cx="781.89" cy="677.24" r="2.9" fill="#FFE2E2" stroke="#FF5A55" stroke-width="1.6"/>
<circle cx="791.62" cy="678.54" r="2.9" fill="#FFE2E2" stroke="#FF5A55" stroke-width="1.6"/>
<circle cx="787.30" cy="686.32" r="2.9" fill="#FFE2E2" stroke="#FF5A55" stroke-width="1.6"/>
<circle cx="791.62" cy="695.41" r="2.9" fill="#FFE2E2" stroke="#FF5A55" stroke-width="1.6"/>
<rect x="819.75" y="653.45" width="23.7" height="66.35" fill="url(#h2)" stroke="#FF5A55" stroke-width="2.3"/>
<line x1="831.60" y1="653.45" x2="831.60" y2="645.95" stroke="#FF5A55" stroke-width="1.6"/>
<line x1="825.10" y1="645.95" x2="838.10" y2="645.95" stroke="#FF5A55" stroke-width="1.6"/>
<line x1="831.60" y1="653.45" x2="831.60" y2="660.95" stroke="#FF5A55" stroke-width="1.4"/>
<line x1="825.10" y1="660.95" x2="838.10" y2="660.95" stroke="#FF5A55" stroke-width="1.4"/>
<circle cx="831.19" cy="580.38" r="2.9" fill="#F0685A" stroke="#A3180C" stroke-width="1.6"/>
<circle cx="827.73" cy="638.76" r="2.9" fill="#F0685A" stroke="#A3180C" stroke-width="1.6"/>
<circle cx="827.73" cy="645.68" r="2.9" fill="#F0685A" stroke="#A3180C" stroke-width="1.6"/>
<circle cx="834.86" cy="643.95" r="2.9" fill="#F0685A" stroke="#A3180C" stroke-width="1.6"/>
<circle cx="821.24" cy="656.49" r="2.9" fill="#F0685A" stroke="#A3180C" stroke-width="1.6"/>
<circle cx="827.30" cy="656.49" r="2.9" fill="#F0685A" stroke="#A3180C" stroke-width="1.6"/>
<circle cx="841.35" cy="656.92" r="2.9" fill="#F0685A" stroke="#A3180C" stroke-width="1.6"/>
<circle cx="834.86" cy="661.24" r="2.9" fill="#F0685A" stroke="#A3180C" stroke-width="1.6"/>
<circle cx="828.38" cy="662.97" r="2.9" fill="#F0685A" stroke="#A3180C" stroke-width="1.6"/>
<circle cx="824.05" cy="682.00" r="2.9" fill="#F0685A" stroke="#A3180C" stroke-width="1.6"/>
<circle cx="831.19" cy="677.68" r="2.9" fill="#F0685A" stroke="#A3180C" stroke-width="1.6"/>
<circle cx="838.11" cy="677.68" r="2.9" fill="#F0685A" stroke="#A3180C" stroke-width="1.6"/>
<path d="M765.70,552.10 L765.70,719.80 L857.70,719.80" fill="none" stroke="#000" stroke-width="2"/>
<line x1="759.70" y1="719.80" x2="765.70" y2="719.80" stroke="#000" stroke-width="2"/>
<text x="757.40" y="726.20" font-size="18" text-anchor="end" fill="#000" stroke="#000" stroke-width="0.25" >0</text>
<line x1="759.70" y1="686.46" x2="765.70" y2="686.46" stroke="#000" stroke-width="2"/>
<text x="757.40" y="692.86" font-size="18" text-anchor="end" fill="#000" stroke="#000" stroke-width="0.25" >2</text>
<line x1="759.70" y1="653.12" x2="765.70" y2="653.12" stroke="#000" stroke-width="2"/>
<text x="757.40" y="659.52" font-size="18" text-anchor="end" fill="#000" stroke="#000" stroke-width="0.25" >4</text>
<line x1="759.70" y1="619.78" x2="765.70" y2="619.78" stroke="#000" stroke-width="2"/>
<text x="757.40" y="626.18" font-size="18" text-anchor="end" fill="#000" stroke="#000" stroke-width="0.25" >6</text>
<line x1="759.70" y1="586.44" x2="765.70" y2="586.44" stroke="#000" stroke-width="2"/>
<text x="757.40" y="592.84" font-size="18" text-anchor="end" fill="#000" stroke="#000" stroke-width="0.25" >8</text>
<line x1="759.70" y1="553.10" x2="765.70" y2="553.10" stroke="#000" stroke-width="2"/>
<text x="757.40" y="559.50" font-size="18" text-anchor="end" fill="#000" stroke="#000" stroke-width="0.25" >10</text>
<line x1="792.10" y1="719.80" x2="792.10" y2="726.10" stroke="#000" stroke-width="2"/>
<text transform="translate(795.50,740.40) rotate(-45)" font-size="18" text-anchor="end" stroke="#000" stroke-width="0.3">VEH</text>
<line x1="831.60" y1="719.80" x2="831.60" y2="726.10" stroke="#000" stroke-width="2"/>
<text transform="translate(835.00,740.40) rotate(-45)" font-size="18" text-anchor="end" stroke="#000" stroke-width="0.3">mE2</text>
<text transform="translate(727.00,632.00) rotate(-90)" font-size="18.4" text-anchor="middle" fill="#000" stroke="#000" stroke-width="0.3">EtOH Intake (g/kg)</text>
<path d="M791.60,604.00 L791.60,554.20 L831.20,554.20 L831.20,570.00" fill="none" stroke="#000" stroke-width="2"/>
<text x="810.90" y="547.30" font-size="12" text-anchor="middle" fill="#000" stroke="#000" stroke-width="0.25" >0.097</text>
<text x="889.50" y="541.60" font-size="24" text-anchor="start" fill="#000" font-weight="bold" >i</text>
<rect x="967.35" y="662.56" width="23.7" height="57.44" fill="#FFE4E4" stroke="#FF5A55" stroke-width="2.3"/>
<line x1="979.20" y1="662.56" x2="979.20" y2="648.82" stroke="#FF5A55" stroke-width="1.6"/>
<line x1="972.70" y1="648.82" x2="985.70" y2="648.82" stroke="#FF5A55" stroke-width="1.6"/>
<circle cx="973.81" cy="623.14" r="2.9" fill="#FFE2E2" stroke="#FF5A55" stroke-width="1.6"/>
<circle cx="985.70" cy="623.78" r="2.9" fill="#FFE2E2" stroke="#FF5A55" stroke-width="1.6"/>
<circle cx="973.81" cy="646.05" r="2.9" fill="#FFE2E2" stroke="#FF5A55" stroke-width="1.6"/>
<circle cx="985.70" cy="648.00" r="2.9" fill="#FFE2E2" stroke="#FF5A55" stroke-width="1.6"/>
<circle cx="973.81" cy="688.00" r="2.9" fill="#FFE2E2" stroke="#FF5A55" stroke-width="1.6"/>
<circle cx="985.70" cy="690.16" r="2.9" fill="#FFE2E2" stroke="#FF5A55" stroke-width="1.6"/>
<circle cx="979.86" cy="715.68" r="2.9" fill="#FFE2E2" stroke="#FF5A55" stroke-width="1.6"/>
<rect x="1006.85" y="672.13" width="23.7" height="47.87" fill="url(#h2)" stroke="#FF5A55" stroke-width="2.3"/>
<line x1="1018.70" y1="672.13" x2="1018.70" y2="661.31" stroke="#FF5A55" stroke-width="1.6"/>
<line x1="1012.20" y1="661.31" x2="1025.20" y2="661.31" stroke="#FF5A55" stroke-width="1.6"/>
<line x1="1018.70" y1="672.13" x2="1018.70" y2="682.95" stroke="#FF5A55" stroke-width="1.4"/>
<line x1="1012.20" y1="682.95" x2="1025.20" y2="682.95" stroke="#FF5A55" stroke-width="1.4"/>
<circle cx="1019.43" cy="613.41" r="2.9" fill="#F0685A" stroke="#A3180C" stroke-width="1.6"/>
<circle cx="1019.43" cy="654.05" r="2.9" fill="#F0685A" stroke="#A3180C" stroke-width="1.6"/>
<circle cx="1019.43" cy="662.05" r="2.9" fill="#F0685A" stroke="#A3180C" stroke-width="1.6"/>
<circle cx="1019.43" cy="672.00" r="2.9" fill="#F0685A" stroke="#A3180C" stroke-width="1.6"/>
<circle cx="1008.62" cy="687.57" r="2.9" fill="#F0685A" stroke="#A3180C" stroke-width="1.6"/>
<circle cx="1019.43" cy="692.32" r="2.9" fill="#F0685A" stroke="#A3180C" stroke-width="1.6"/>
<circle cx="1029.59" cy="691.24" r="2.9" fill="#F0685A" stroke="#A3180C" stroke-width="1.6"/>
<circle cx="1019.43" cy="698.38" r="2.9" fill="#F0685A" stroke="#A3180C" stroke-width="1.6"/>
<path d="M952.80,552.50 L952.80,720.00 L1044.80,720.00" fill="none" stroke="#000" stroke-width="2"/>
<line x1="946.80" y1="720.00" x2="952.80" y2="720.00" stroke="#000" stroke-width="2"/>
<text x="944.50" y="726.40" font-size="18" text-anchor="end" fill="#000" stroke="#000" stroke-width="0.25" >0</text>
<line x1="946.80" y1="678.38" x2="952.80" y2="678.38" stroke="#000" stroke-width="2"/>
<text x="944.50" y="684.77" font-size="18" text-anchor="end" fill="#000" stroke="#000" stroke-width="0.25" >10</text>
<line x1="946.80" y1="636.75" x2="952.80" y2="636.75" stroke="#000" stroke-width="2"/>
<text x="944.50" y="643.15" font-size="18" text-anchor="end" fill="#000" stroke="#000" stroke-width="0.25" >20</text>
<line x1="946.80" y1="595.12" x2="952.80" y2="595.12" stroke="#000" stroke-width="2"/>
<text x="944.50" y="601.52" font-size="18" text-anchor="end" fill="#000" stroke="#000" stroke-width="0.25" >30</text>
<line x1="946.80" y1="553.50" x2="952.80" y2="553.50" stroke="#000" stroke-width="2"/>
<text x="944.50" y="559.90" font-size="18" text-anchor="end" fill="#000" stroke="#000" stroke-width="0.25" >40</text>
<line x1="979.20" y1="720.00" x2="979.20" y2="726.30" stroke="#000" stroke-width="2"/>
<text transform="translate(982.60,740.60) rotate(-45)" font-size="18" text-anchor="end" stroke="#000" stroke-width="0.3">VEH</text>
<line x1="1018.70" y1="720.00" x2="1018.70" y2="726.30" stroke="#000" stroke-width="2"/>
<text transform="translate(1022.10,740.60) rotate(-45)" font-size="18" text-anchor="end" stroke="#000" stroke-width="0.3">E2</text>
<text transform="translate(914.90,632.50) rotate(-90)" font-size="18.4" text-anchor="middle" fill="#000" stroke="#000" stroke-width="0.3">% time in open arms</text>
<rect x="1119.45" y="646.18" width="23.7" height="73.82" fill="#FFE4E4" stroke="#FF5A55" stroke-width="2.3"/>
<line x1="1131.30" y1="646.18" x2="1131.30" y2="641.19" stroke="#FF5A55" stroke-width="1.6"/>
<line x1="1124.80" y1="641.19" x2="1137.80" y2="641.19" stroke="#FF5A55" stroke-width="1.6"/>
<circle cx="1128.00" cy="627.03" r="2.9" fill="#FFE2E2" stroke="#FF5A55" stroke-width="1.6"/>
<circle cx="1135.14" cy="632.00" r="2.9" fill="#FFE2E2" stroke="#FF5A55" stroke-width="1.6"/>
<circle cx="1131.68" cy="640.43" r="2.9" fill="#FFE2E2" stroke="#FF5A55" stroke-width="1.6"/>
<circle cx="1121.08" cy="657.73" r="2.9" fill="#FFE2E2" stroke="#FF5A55" stroke-width="1.6"/>
<circle cx="1128.22" cy="654.05" r="2.9" fill="#FFE2E2" stroke="#FF5A55" stroke-width="1.6"/>
<circle cx="1135.14" cy="656.65" r="2.9" fill="#FFE2E2" stroke="#FF5A55" stroke-width="1.6"/>
<circle cx="1142.05" cy="655.14" r="2.9" fill="#FFE2E2" stroke="#FF5A55" stroke-width="1.6"/>
<rect x="1158.95" y="645.63" width="23.7" height="74.37" fill="url(#h2)" stroke="#FF5A55" stroke-width="2.3"/>
<line x1="1170.80" y1="645.63" x2="1170.80" y2="638.97" stroke="#FF5A55" stroke-width="1.6"/>
<line x1="1164.30" y1="638.97" x2="1177.30" y2="638.97" stroke="#FF5A55" stroke-width="1.6"/>
<line x1="1170.80" y1="645.63" x2="1170.80" y2="652.29" stroke="#FF5A55" stroke-width="1.4"/>
<line x1="1164.30" y1="652.29" x2="1177.30" y2="652.29" stroke="#FF5A55" stroke-width="1.4"/>
<circle cx="1171.24" cy="610.38" r="2.9" fill="#F0685A" stroke="#A3180C" stroke-width="1.6"/>
<circle cx="1171.24" cy="634.59" r="2.9" fill="#F0685A" stroke="#A3180C" stroke-width="1.6"/>
<circle cx="1161.08" cy="645.84" r="2.9" fill="#F0685A" stroke="#A3180C" stroke-width="1.6"/>
<circle cx="1171.24" cy="643.68" r="2.9" fill="#F0685A" stroke="#A3180C" stroke-width="1.6"/>
<circle cx="1171.24" cy="650.16" r="2.9" fill="#F0685A" stroke="#A3180C" stroke-width="1.6"/>
<circle cx="1181.62" cy="647.14" r="2.9" fill="#F0685A" stroke="#A3180C" stroke-width="1.6"/>
<circle cx="1166.49" cy="666.59" r="2.9" fill="#F0685A" stroke="#A3180C" stroke-width="1.6"/>
<circle cx="1176.65" cy="662.70" r="2.9" fill="#F0685A" stroke="#A3180C" stroke-width="1.6"/>
<path d="M1104.90,552.50 L1104.90,720.00 L1196.90,720.00" fill="none" stroke="#000" stroke-width="2"/>
<line x1="1098.90" y1="720.00" x2="1104.90" y2="720.00" stroke="#000" stroke-width="2"/>
<text x="1096.60" y="726.40" font-size="18" text-anchor="end" fill="#000" stroke="#000" stroke-width="0.25" >0</text>
<line x1="1098.90" y1="664.50" x2="1104.90" y2="664.50" stroke="#000" stroke-width="2"/>
<text x="1096.60" y="670.90" font-size="18" text-anchor="end" fill="#000" stroke="#000" stroke-width="0.25" >10</text>
<line x1="1098.90" y1="609.00" x2="1104.90" y2="609.00" stroke="#000" stroke-width="2"/>
<text x="1096.60" y="615.40" font-size="18" text-anchor="end" fill="#000" stroke="#000" stroke-width="0.25" >20</text>
<line x1="1098.90" y1="553.50" x2="1104.90" y2="553.50" stroke="#000" stroke-width="2"/>
<text x="1096.60" y="559.90" font-size="18" text-anchor="end" fill="#000" stroke="#000" stroke-width="0.25" >30</text>
<line x1="1131.30" y1="720.00" x2="1131.30" y2="726.30" stroke="#000" stroke-width="2"/>
<text transform="translate(1134.70,740.60) rotate(-45)" font-size="18" text-anchor="end" stroke="#000" stroke-width="0.3">VEH</text>
<line x1="1170.80" y1="720.00" x2="1170.80" y2="726.30" stroke="#000" stroke-width="2"/>
<text transform="translate(1174.20,740.60) rotate(-45)" font-size="18" text-anchor="end" stroke="#000" stroke-width="0.3">E2</text>
<text transform="translate(1066.60,631.40) rotate(-90)" font-size="18.4" text-anchor="middle" fill="#000" stroke="#000" stroke-width="0.3">Distance traveled (m)</text>
<text x="0.40" y="834.30" font-size="24" text-anchor="start" fill="#000" font-weight="bold" >j</text>
<text x="90.30" y="857.70" font-size="18.3" text-anchor="middle" fill="#333" letter-spacing="-0.4" stroke="#333" stroke-width="0.25" >Low E2 F</text>
<text x="90.30" y="878.00" font-size="18.3" text-anchor="middle" fill="#333" letter-spacing="-0.4" stroke="#333" stroke-width="0.25" >CRFxAi9 reporter</text>
<g transform="translate(96.10,892.90) scale(0.14048)">
<path d="M0,25 C-20,5 -70,-3 -132,0 C-250,8 -400,100 -418,230 C-432,330 -400,400 -330,440 C-280,470 -250,490 -225,525 C-195,560 -120,560 -85,520 C-60,490 -30,470 0,470 C30,470 60,490 85,520 C120,560 195,560 225,525 C250,490 280,470 330,440 C400,400 432,330 418,230 C400,100 250,8 132,0 C70,-3 20,5 0,25 Z" fill="#FFC0C0" stroke="#F58A8A" stroke-width="6.41"/>
<path d="M-312,330 C-330,200 -220,125 -130,125 C-70,125 -40,150 0,150 C40,150 70,125 130,125 C220,125 330,200 312,330 C300,400 200,445 0,430 C-200,445 -300,400 -312,330 Z" fill="#FFCBCB"/>
<path d="M-312,330 C-330,200 -220,125 -130,125 C-70,125 -40,150 0,150 C40,150 70,125 130,125 C220,125 330,200 312,330" fill="none" stroke="#fff" stroke-opacity="0.8" stroke-width="10.68"/>
<path d="M0,170 L-55,255 L0,340 L55,255 Z" fill="#FFD5D5"/>
<path d="M-118,165 C-105,150 -80,150 -72,165 L-90,330 C-100,300 -112,220 -118,165 Z M118,165 C105,150 80,150 72,165 L90,330 C100,300 112,220 118,165 Z" fill="#fff" fill-opacity="0.92"/>
<path d="M-245,450 C-150,380 -60,352 0,352 C60,352 150,380 245,450 C150,420 60,408 0,408 C-60,408 -150,420 -245,450 Z" fill="#FCEAF2"/>
<path d="M0,25 L0,140 M0,440 L0,470" stroke="#F58A8A" stroke-width="4.98" fill="none"/>
</g>
<g transform="translate(81,943) rotate(195.5)">
<path d="M0,0 L14,-1.1 L62,-2.2 L62,2.2 L14,1.1 Z" fill="#9A9A9A" stroke="#555" stroke-width="0.5"/>
<line x1="14" y1="0" x2="62" y2="0" stroke="#eee" stroke-width="0.6"/>
</g>
<circle cx="81" cy="943" r="1.8" fill="none" stroke="#E03030" stroke-width="0.8"/>
<text x="90.30" y="1002.60" font-size="18.3" text-anchor="middle" fill="#333" letter-spacing="-0.4" stroke="#333" stroke-width="0.25" >+ bath app E2 or</text>
<text x="92.50" y="1023.50" font-size="18.3" text-anchor="middle" fill="#333" letter-spacing="-0.4" stroke="#333" stroke-width="0.25" >membrane-only E2</text>
<text x="90.30" y="1042.00" font-size="18.3" text-anchor="middle" fill="#333" letter-spacing="-0.4" stroke="#333" stroke-width="0.25" >(mE2)</text>
<text x="204.30" y="835.00" font-size="24" text-anchor="start" fill="#000" font-weight="bold" >k</text>
<rect x="278.3" y="861.5" width="199.7" height="126.0" fill="#EBFAF4"/>
<rect x="278.3" y="987.5" width="199.7" height="58.90000000000009" fill="#EEEEEE"/>
<line x1="278.3" y1="987.5" x2="478" y2="987.5" stroke="#222" stroke-width="1.3" stroke-dasharray="5,3.5"/>
<path d="M278.3,861.5 L278.3,1046.4 L478,1046.4" fill="none" stroke="#000" stroke-width="2"/>
<line x1="272.3" y1="861.75" x2="278.3" y2="861.75" stroke="#000" stroke-width="1.8"/>
<text x="269.80" y="867.55" font-size="16.2" text-anchor="end" fill="#000" stroke="#000" stroke-width="0.25" >2500</text>
<line x1="272.3" y1="889.5" x2="278.3" y2="889.5" stroke="#000" stroke-width="1.8"/>
<text x="269.80" y="895.30" font-size="16.2" text-anchor="end" fill="#000" stroke="#000" stroke-width="0.25" >500</text>
<line x1="272.3" y1="908.75" x2="278.3" y2="908.75" stroke="#000" stroke-width="1.8"/>
<text x="269.80" y="914.55" font-size="16.2" text-anchor="end" fill="#000" stroke="#000" stroke-width="0.25" >200</text>
<line x1="272.3" y1="948.25" x2="278.3" y2="948.25" stroke="#000" stroke-width="1.8"/>
<text x="269.80" y="954.05" font-size="16.2" text-anchor="end" fill="#000" stroke="#000" stroke-width="0.25" >100</text>
<line x1="272.3" y1="987.5" x2="278.3" y2="987.5" stroke="#000" stroke-width="1.8"/>
<text x="269.80" y="993.30" font-size="16.2" text-anchor="end" fill="#000" stroke="#000" stroke-width="0.25" >0</text>
<line x1="272.3" y1="1026.75" x2="278.3" y2="1026.75" stroke="#000" stroke-width="1.8"/>
<text x="269.80" y="1032.55" font-size="16.2" text-anchor="end" fill="#000" stroke="#000" stroke-width="0.25" >-100</text>
<line x1="274.8" y1="928.5" x2="278.3" y2="928.5" stroke="#000" stroke-width="1.5"/>
<line x1="274.8" y1="968" x2="278.3" y2="968" stroke="#000" stroke-width="1.5"/>
<line x1="274.8" y1="1007.2" x2="278.3" y2="1007.2" stroke="#000" stroke-width="1.5"/>
<line x1="274.3" y1="893.5" x2="282.3" y2="885.5" stroke="#000" stroke-width="1.8"/>
<line x1="293" y1="1046.4" x2="293" y2="1052.9" stroke="#000" stroke-width="1.8"/>
<text transform="translate(294.70,1066.20) rotate(-45)" font-size="16.2" text-anchor="end" stroke="#000" stroke-width="0.3">0.01</text>
<line x1="327" y1="1046.4" x2="327" y2="1052.9" stroke="#000" stroke-width="1.8"/>
<text transform="translate(328.70,1066.20) rotate(-45)" font-size="16.2" text-anchor="end" stroke="#000" stroke-width="0.3">1</text>
<line x1="361.25" y1="1046.4" x2="361.25" y2="1052.9" stroke="#000" stroke-width="1.8"/>
<text transform="translate(362.95,1066.20) rotate(-45)" font-size="16.2" text-anchor="end" stroke="#000" stroke-width="0.3">10</text>
<line x1="395" y1="1046.4" x2="395" y2="1052.9" stroke="#000" stroke-width="1.8"/>
<text transform="translate(396.70,1066.20) rotate(-45)" font-size="16.2" text-anchor="end" stroke="#000" stroke-width="0.3">100</text>
<line x1="428.75" y1="1046.4" x2="428.75" y2="1052.9" stroke="#000" stroke-width="1.8"/>
<text transform="translate(430.45,1066.20) rotate(-45)" font-size="16.2" text-anchor="end" stroke="#000" stroke-width="0.3">1000</text>
<line x1="462.5" y1="1046.4" x2="462.5" y2="1052.9" stroke="#000" stroke-width="1.8"/>
<text transform="translate(464.20,1066.20) rotate(-45)" font-size="16.2" text-anchor="end" stroke="#000" stroke-width="0.3">100</text>
<text transform="translate(484.6,1067.9) rotate(-45)" font-size="16.2" text-anchor="end" stroke="#000" stroke-width="0.3">mE2</text>
<text x="379.60" y="1105.80" font-size="16.3" text-anchor="middle" fill="#000" stroke="#000" stroke-width="0.25" >E2 concentration (nM)</text>
<text transform="translate(226.00,951.30) rotate(-90)" font-size="16" text-anchor="middle" fill="#000" stroke="#000" stroke-width="0.3">% change E2 sEPSC freq/amp</text>
<circle cx="383.75" cy="873.75" r="4.6" fill="#000"/>
<path d="M378.3,896.6 L384.3,886.4 L390.3,896.6 Z" fill="#0B1A2A"/>
<text x="396.20" y="878.40" font-size="15.8" text-anchor="start" fill="#000" stroke="#000" stroke-width="0.25" >Frequency</text>
<text x="396.20" y="896.00" font-size="15.8" text-anchor="start" fill="#000" stroke="#000" stroke-width="0.25" >Amplitude</text>
<circle cx="286.25" cy="958.75" r="3.3" fill="#F7A0A0"/>
<circle cx="286.25" cy="967.5" r="3.3" fill="#F7A0A0"/>
<line x1="281.75" y1="962.5" x2="290.75" y2="962.5" stroke="#111" stroke-width="1.6"/>
<path d="M294.65,982.5 L298.25,975.9 L301.85,982.5 Z" fill="#F7A0A0"/>
<path d="M296.65,982.5 L300.25,975.9 L303.85,982.5 Z" fill="#F7A0A0"/>
<line x1="294.75" y1="979.3" x2="303.75" y2="979.3" stroke="#111" stroke-width="1.6"/>
<line x1="320" y1="882.5" x2="320" y2="960" stroke="#F56A62" stroke-width="1.1"/>
<line x1="316.5" y1="882.5" x2="323.5" y2="882.5" stroke="#F56A62" stroke-width="1.1"/>
<line x1="316.5" y1="960" x2="323.5" y2="960" stroke="#F56A62" stroke-width="1.1"/>
<circle cx="320" cy="869.25" r="3.3" fill="#F56A62"/>
<circle cx="320" cy="950" r="3.3" fill="#F56A62"/>
<circle cx="318.5" cy="958.75" r="3.3" fill="#F56A62"/>
<circle cx="321.5" cy="957.5" r="3.3" fill="#F56A62"/>
<circle cx="317.5" cy="960" r="3.3" fill="#F56A62"/>
<line x1="315.5" y1="888.75" x2="324.5" y2="888.75" stroke="#111" stroke-width="1.6"/>
<line x1="333.75" y1="945" x2="333.75" y2="988.75" stroke="#F56A62" stroke-width="1.1"/>
<line x1="330.25" y1="945" x2="337.25" y2="945" stroke="#F56A62" stroke-width="1.1"/>
<line x1="330.25" y1="988.75" x2="337.25" y2="988.75" stroke="#F56A62" stroke-width="1.1"/>
<path d="M330.15,909.25 L333.75,902.65 L337.35,909.25 Z" fill="#F56A62"/>
<path d="M330.15,968.5 L333.75,961.9 L337.35,968.5 Z" fill="#F56A62"/>
<path d="M330.15,999.25 L333.75,992.65 L337.35,999.25 Z" fill="#F56A62"/>
<path d="M328.65,1003 L332.25,996.4 L335.85,1003 Z" fill="#F56A62"/>
<line x1="329.25" y1="967" x2="338.25" y2="967" stroke="#111" stroke-width="1.6"/>
<line x1="354.5" y1="900.5" x2="354.5" y2="991.25" stroke="#FF2A14" stroke-width="1.1"/>
<line x1="351.0" y1="900.5" x2="358.0" y2="900.5" stroke="#FF2A14" stroke-width="1.1"/>
<line x1="351.0" y1="991.25" x2="358.0" y2="991.25" stroke="#FF2A14" stroke-width="1.1"/>
<circle cx="354.5" cy="885.5" r="3.3" fill="#FF2A14"/>
<circle cx="354.5" cy="941.75" r="3.3" fill="#FF2A14"/>
<circle cx="354.5" cy="960.5" r="3.3" fill="#FF2A14"/>
<circle cx="354.5" cy="1000" r="3.3" fill="#FF2A14"/>
<circle cx="353.0" cy="1008" r="3.3" fill="#FF2A14"/>
<circle cx="356.0" cy="1008.75" r="3.3" fill="#FF2A14"/>
<circle cx="354.5" cy="1021.25" r="3.3" fill="#FF2A14"/>
<line x1="350.0" y1="946.25" x2="359.0" y2="946.25" stroke="#111" stroke-width="1.6"/>
<line x1="367" y1="979" x2="367" y2="993" stroke="#FF2A14" stroke-width="1.1"/>
<line x1="363.5" y1="979" x2="370.5" y2="979" stroke="#FF2A14" stroke-width="1.1"/>
<line x1="363.5" y1="993" x2="370.5" y2="993" stroke="#FF2A14" stroke-width="1.1"/>
<path d="M363.4,945 L367,938.4 L370.6,945 Z" fill="#FF2A14"/>
<path d="M363.4,979.25 L367,972.65 L370.6,979.25 Z" fill="#FF2A14"/>
<path d="M362.4,997.5 L366,990.9 L369.6,997.5 Z" fill="#FF2A14"/>
<path d="M364.4,1000.5 L368,993.9 L371.6,1000.5 Z" fill="#FF2A14"/>
<path d="M364.4,1004.25 L368,997.65 L371.6,1004.25 Z" fill="#FF2A14"/>
<line x1="362.5" y1="986.75" x2="371.5" y2="986.75" stroke="#111" stroke-width="1.6"/>
<line x1="388.75" y1="960.5" x2="388.75" y2="984" stroke="#BD1C0C" stroke-width="1.1"/>
<line x1="385.25" y1="960.5" x2="392.25" y2="960.5" stroke="#BD1C0C" stroke-width="1.1"/>
<line x1="385.25" y1="984" x2="392.25" y2="984" stroke="#BD1C0C" stroke-width="1.1"/>
<circle cx="388.75" cy="944.5" r="3.3" fill="#BD1C0C"/>
<circle cx="388.75" cy="965" r="3.3" fill="#BD1C0C"/>
<circle cx="388.75" cy="977" r="3.3" fill="#BD1C0C"/>
<circle cx="388.75" cy="1002.5" r="3.3" fill="#BD1C0C"/>
<line x1="384.25" y1="972" x2="393.25" y2="972" stroke="#111" stroke-width="1.6"/>
<line x1="401.25" y1="974" x2="401.25" y2="987.5" stroke="#BD1C0C" stroke-width="1.1"/>
<line x1="397.75" y1="974" x2="404.75" y2="974" stroke="#BD1C0C" stroke-width="1.1"/>
<line x1="397.75" y1="987.5" x2="404.75" y2="987.5" stroke="#BD1C0C" stroke-width="1.1"/>
<path d="M397.65,966.75 L401.25,960.15 L404.85,966.75 Z" fill="#BD1C0C"/>
<path d="M396.65,982 L400.25,975.4 L403.85,982 Z" fill="#BD1C0C"/>
<path d="M398.65,984.25 L402.25,977.65 L405.85,984.25 Z" fill="#BD1C0C"/>
<path d="M397.65,1003 L401.25,996.4 L404.85,1003 Z" fill="#BD1C0C"/>
<line x1="396.75" y1="980.75" x2="405.75" y2="980.75" stroke="#111" stroke-width="1.6"/>
<line x1="422.5" y1="955.5" x2="422.5" y2="969.5" stroke="#7A120A" stroke-width="1.1"/>
<line x1="419.0" y1="955.5" x2="426.0" y2="955.5" stroke="#7A120A" stroke-width="1.1"/>
<line x1="419.0" y1="969.5" x2="426.0" y2="969.5" stroke="#7A120A" stroke-width="1.1"/>
<circle cx="423.5" cy="942" r="3.3" fill="#7A120A"/>
<circle cx="421.5" cy="948" r="3.3" fill="#7A120A"/>
<circle cx="422.5" cy="969.5" r="3.3" fill="#7A120A"/>
<circle cx="423.5" cy="975" r="3.3" fill="#7A120A"/>
<circle cx="421.5" cy="978.75" r="3.3" fill="#7A120A"/>
<line x1="418.0" y1="962.5" x2="427.0" y2="962.5" stroke="#111" stroke-width="1.6"/>
<path d="M431.4,975 L435,968.4 L438.6,975 Z" fill="#7A120A"/>
<path d="M431.4,983 L435,976.4 L438.6,983 Z" fill="#7A120A"/>
<path d="M430.4,986.75 L434,980.15 L437.6,986.75 Z" fill="#7A120A"/>
<path d="M431.4,993.5 L435,986.9 L438.6,993.5 Z" fill="#7A120A"/>
<path d="M432.4,995 L436,988.4 L439.6,995 Z" fill="#7A120A"/>
<line x1="430.5" y1="982.5" x2="439.5" y2="982.5" stroke="#111" stroke-width="1.6"/>
<line x1="456.25" y1="956.25" x2="456.25" y2="982.5" stroke="#C0200F" stroke-width="1.1"/>
<line x1="452.75" y1="956.25" x2="459.75" y2="956.25" stroke="#C0200F" stroke-width="1.1"/>
<line x1="452.75" y1="982.5" x2="459.75" y2="982.5" stroke="#C0200F" stroke-width="1.1"/>
<circle cx="457.25" cy="940.5" r="2.8" fill="#fff" stroke="#C0200F" stroke-width="1.5"/>
<circle cx="455.25" cy="945" r="2.8" fill="#fff" stroke="#C0200F" stroke-width="1.5"/>
<circle cx="456.25" cy="952.5" r="2.8" fill="#fff" stroke="#C0200F" stroke-width="1.5"/>
<circle cx="456.25" cy="1005" r="2.8" fill="#fff" stroke="#C0200F" stroke-width="1.5"/>
<circle cx="456.25" cy="1019.5" r="2.8" fill="#fff" stroke="#C0200F" stroke-width="1.5"/>
<line x1="451.75" y1="968" x2="460.75" y2="968" stroke="#111" stroke-width="1.6"/>
<line x1="469.5" y1="985.5" x2="469.5" y2="998.5" stroke="#C0200F" stroke-width="1.1"/>
<line x1="466.0" y1="985.5" x2="473.0" y2="985.5" stroke="#C0200F" stroke-width="1.1"/>
<line x1="466.0" y1="998.5" x2="473.0" y2="998.5" stroke="#C0200F" stroke-width="1.1"/>
<path d="M466.4,973.85 L469.5,968.25 L472.6,973.85 Z" fill="#fff" stroke="#C0200F" stroke-width="1.3"/>
<path d="M466.4,982.1 L469.5,976.5 L472.6,982.1 Z" fill="#fff" stroke="#C0200F" stroke-width="1.3"/>
<path d="M466.4,996.35 L469.5,990.75 L472.6,996.35 Z" fill="#fff" stroke="#C0200F" stroke-width="1.3"/>
<path d="M465.4,1002.6 L468.5,997 L471.6,1002.6 Z" fill="#fff" stroke="#C0200F" stroke-width="1.3"/>
<path d="M467.4,1005.1 L470.5,999.5 L473.6,1005.1 Z" fill="#fff" stroke="#C0200F" stroke-width="1.3"/>
<line x1="465.0" y1="992.5" x2="474.0" y2="992.5" stroke="#111" stroke-width="1.6"/>
<text x="508.80" y="835.00" font-size="24" text-anchor="start" fill="#000" font-weight="bold" >l</text>
<rect x="635" y="860" width="75" height="186.25" fill="#FDF0F0"/>
<text x="672.50" y="878.00" font-size="16.5" text-anchor="middle" fill="#000" stroke="#000" stroke-width="0.25" >E2</text>
<line x1="594.3" y1="1015.50" x2="780.3" y2="1015.50" stroke="#000" stroke-width="1.6" stroke-dasharray="1.6,2.2"/>
<path d="M601.73,1017.20 L609.11,1015.50 L616.49,1013.30 L623.87,1015.50 L631.25,1016.50 L638.63,1013.30 L646.01,1015.30 L653.39,1013.30 L660.77,1014.20 L668.15,1018.30 L675.53,1014.20 L682.91,1016.00 L690.29,1013.00 L697.67,1016.30 L705.05,1015.80 L712.43,1018.00 L719.81,1022.50 L727.19,1023.30 L734.57,1023.50 L741.95,1024.00 L749.33,1018.30 L756.71,1019.00 L764.09,1015.00" fill="none" stroke="#999999" stroke-width="1.2"/>
<line x1="660.77" y1="1014.20" x2="660.77" y2="1010.50" stroke="#999999" stroke-width="1.1"/>
<line x1="657.77" y1="1010.50" x2="663.77" y2="1010.50" stroke="#999999" stroke-width="1.1"/>
<line x1="668.15" y1="1018.30" x2="668.15" y2="1013.50" stroke="#999999" stroke-width="1.1"/>
<line x1="665.15" y1="1013.50" x2="671.15" y2="1013.50" stroke="#999999" stroke-width="1.1"/>
<line x1="690.29" y1="1013.00" x2="690.29" y2="1009.00" stroke="#999999" stroke-width="1.1"/>
<line x1="687.29" y1="1009.00" x2="693.29" y2="1009.00" stroke="#999999" stroke-width="1.1"/>
<line x1="719.81" y1="1022.50" x2="719.81" y2="1018.50" stroke="#999999" stroke-width="1.1"/>
<line x1="716.81" y1="1018.50" x2="722.81" y2="1018.50" stroke="#999999" stroke-width="1.1"/>
<line x1="749.33" y1="1018.30" x2="749.33" y2="1014.50" stroke="#999999" stroke-width="1.1"/>
<line x1="746.33" y1="1014.50" x2="752.33" y2="1014.50" stroke="#999999" stroke-width="1.1"/>
<line x1="764.09" y1="1015.00" x2="764.09" y2="1012.00" stroke="#999999" stroke-width="1.1"/>
<line x1="761.09" y1="1012.00" x2="767.09" y2="1012.00" stroke="#999999" stroke-width="1.1"/>
<circle cx="601.73" cy="1017.20" r="2.9" fill="#999999"/>
<circle cx="609.11" cy="1015.50" r="2.9" fill="#999999"/>
<circle cx="616.49" cy="1013.30" r="2.9" fill="#999999"/>
<circle cx="623.87" cy="1015.50" r="2.9" fill="#999999"/>
<circle cx="631.25" cy="1016.50" r="2.9" fill="#999999"/>
<circle cx="638.63" cy="1013.30" r="2.9" fill="#999999"/>
<circle cx="646.01" cy="1015.30" r="2.9" fill="#999999"/>
<circle cx="653.39" cy="1013.30" r="2.9" fill="#999999"/>
<circle cx="660.77" cy="1014.20" r="2.9" fill="#999999"/>
<circle cx="668.15" cy="1018.30" r="2.9" fill="#999999"/>
<circle cx="675.53" cy="1014.20" r="2.9" fill="#999999"/>
<circle cx="682.91" cy="1016.00" r="2.9" fill="#999999"/>
<circle cx="690.29" cy="1013.00" r="2.9" fill="#999999"/>
<circle cx="697.67" cy="1016.30" r="2.9" fill="#999999"/>
<circle cx="705.05" cy="1015.80" r="2.9" fill="#999999"/>
<circle cx="712.43" cy="1018.00" r="2.9" fill="#999999"/>
<circle cx="719.81" cy="1022.50" r="2.9" fill="#999999"/>
<circle cx="727.19" cy="1023.30" r="2.9" fill="#999999"/>
<circle cx="734.57" cy="1023.50" r="2.9" fill="#999999"/>
<circle cx="741.95" cy="1024.00" r="2.9" fill="#999999"/>
<circle cx="749.33" cy="1018.30" r="2.9" fill="#999999"/>
<circle cx="756.71" cy="1019.00" r="2.9" fill="#999999"/>
<circle cx="764.09" cy="1015.00" r="2.9" fill="#999999"/>
<path d="M601.73,1011.70 L609.11,1020.80 L616.49,1014.70 L623.87,1011.70 L631.25,1016.70 L638.63,1014.70 L646.01,1026.30 L653.39,1021.00 L660.77,1027.50 L668.15,1021.70 L675.53,1020.30 L682.91,1018.00 L690.29,1016.70 L697.67,1025.30 L705.05,1026.00 L712.43,1025.00 L719.81,1027.50 L727.19,1028.00 L734.57,1025.00 L741.95,1024.70 L749.33,1025.80 L756.71,1023.80 L764.09,1023.30 L771.47,1022.20" fill="none" stroke="#F7900A" stroke-width="1.2"/>
<line x1="623.87" y1="1011.70" x2="623.87" y2="1009.50" stroke="#F7900A" stroke-width="1.1"/>
<line x1="620.87" y1="1009.50" x2="626.87" y2="1009.50" stroke="#F7900A" stroke-width="1.1"/>
<line x1="646.01" y1="1026.30" x2="646.01" y2="1022.00" stroke="#F7900A" stroke-width="1.1"/>
<line x1="643.01" y1="1022.00" x2="649.01" y2="1022.00" stroke="#F7900A" stroke-width="1.1"/>
<line x1="653.39" y1="1021.00" x2="653.39" y2="1018.00" stroke="#F7900A" stroke-width="1.1"/>
<line x1="650.39" y1="1018.00" x2="656.39" y2="1018.00" stroke="#F7900A" stroke-width="1.1"/>
<line x1="660.77" y1="1027.50" x2="660.77" y2="1022.50" stroke="#F7900A" stroke-width="1.1"/>
<line x1="657.77" y1="1022.50" x2="663.77" y2="1022.50" stroke="#F7900A" stroke-width="1.1"/>
<line x1="682.91" y1="1018.00" x2="682.91" y2="1012.50" stroke="#F7900A" stroke-width="1.1"/>
<line x1="679.91" y1="1012.50" x2="685.91" y2="1012.50" stroke="#F7900A" stroke-width="1.1"/>
<line x1="690.29" y1="1016.70" x2="690.29" y2="1012.50" stroke="#F7900A" stroke-width="1.1"/>
<line x1="687.29" y1="1012.50" x2="693.29" y2="1012.50" stroke="#F7900A" stroke-width="1.1"/>
<line x1="705.05" y1="1026.00" x2="705.05" y2="1022.00" stroke="#F7900A" stroke-width="1.1"/>
<line x1="702.05" y1="1022.00" x2="708.05" y2="1022.00" stroke="#F7900A" stroke-width="1.1"/>
<line x1="734.57" y1="1025.00" x2="734.57" y2="1021.50" stroke="#F7900A" stroke-width="1.1"/>
<line x1="731.57" y1="1021.50" x2="737.57" y2="1021.50" stroke="#F7900A" stroke-width="1.1"/>
<circle cx="601.73" cy="1011.70" r="2.9" fill="#F7900A"/>
<circle cx="609.11" cy="1020.80" r="2.9" fill="#F7900A"/>
<circle cx="616.49" cy="1014.70" r="2.9" fill="#F7900A"/>
<circle cx="623.87" cy="1011.70" r="2.9" fill="#F7900A"/>
<circle cx="631.25" cy="1016.70" r="2.9" fill="#F7900A"/>
<circle cx="638.63" cy="1014.70" r="2.9" fill="#F7900A"/>
<circle cx="646.01" cy="1026.30" r="2.9" fill="#F7900A"/>
<circle cx="653.39" cy="1021.00" r="2.9" fill="#F7900A"/>
<circle cx="660.77" cy="1027.50" r="2.9" fill="#F7900A"/>
<circle cx="668.15" cy="1021.70" r="2.9" fill="#F7900A"/>
<circle cx="675.53" cy="1020.30" r="2.9" fill="#F7900A"/>
<circle cx="682.91" cy="1018.00" r="2.9" fill="#F7900A"/>
<circle cx="690.29" cy="1016.70" r="2.9" fill="#F7900A"/>
<circle cx="697.67" cy="1025.30" r="2.9" fill="#F7900A"/>
<circle cx="705.05" cy="1026.00" r="2.9" fill="#F7900A"/>
<circle cx="712.43" cy="1025.00" r="2.9" fill="#F7900A"/>
<circle cx="719.81" cy="1027.50" r="2.9" fill="#F7900A"/>
<circle cx="727.19" cy="1028.00" r="2.9" fill="#F7900A"/>
<circle cx="734.57" cy="1025.00" r="2.9" fill="#F7900A"/>
<circle cx="741.95" cy="1024.70" r="2.9" fill="#F7900A"/>
<circle cx="749.33" cy="1025.80" r="2.9" fill="#F7900A"/>
<circle cx="756.71" cy="1023.80" r="2.9" fill="#F7900A"/>
<circle cx="764.09" cy="1023.30" r="2.9" fill="#F7900A"/>
<circle cx="771.47" cy="1022.20" r="2.9" fill="#F7900A"/>
<path d="M601.73,1010.30 L609.11,1013.00 L616.49,1017.50 L623.87,1015.00 L631.25,1016.30 L638.63,1017.50 L646.01,1009.00 L653.39,1011.70 L660.77,1008.70 L668.15,995.30 L675.53,987.00 L682.91,988.00 L690.29,963.75 L697.67,979.50 L705.05,950.75 L712.43,989.00 L719.81,1006.00 L727.19,1021.70 L734.57,1020.30 L741.95,1010.00 L749.33,1023.30 L756.71,1034.70 L764.09,1024.20" fill="none" stroke="#B43AE6" stroke-width="1.2"/>
<line x1="601.73" y1="1010.30" x2="601.73" y2="1004.00" stroke="#B43AE6" stroke-width="1.1"/>
<line x1="598.73" y1="1004.00" x2="604.73" y2="1004.00" stroke="#B43AE6" stroke-width="1.1"/>
<line x1="646.01" y1="1009.00" x2="646.01" y2="1005.50" stroke="#B43AE6" stroke-width="1.1"/>
<line x1="643.01" y1="1005.50" x2="649.01" y2="1005.50" stroke="#B43AE6" stroke-width="1.1"/>
<line x1="660.77" y1="1008.70" x2="660.77" y2="1003.30" stroke="#B43AE6" stroke-width="1.1"/>
<line x1="657.77" y1="1003.30" x2="663.77" y2="1003.30" stroke="#B43AE6" stroke-width="1.1"/>
<line x1="668.15" y1="995.30" x2="668.15" y2="977.00" stroke="#B43AE6" stroke-width="1.1"/>
<line x1="665.15" y1="977.00" x2="671.15" y2="977.00" stroke="#B43AE6" stroke-width="1.1"/>
<line x1="675.53" y1="987.00" x2="675.53" y2="978.00" stroke="#B43AE6" stroke-width="1.1"/>
<line x1="672.53" y1="978.00" x2="678.53" y2="978.00" stroke="#B43AE6" stroke-width="1.1"/>
<line x1="682.91" y1="988.00" x2="682.91" y2="974.00" stroke="#B43AE6" stroke-width="1.1"/>
<line x1="679.91" y1="974.00" x2="685.91" y2="974.00" stroke="#B43AE6" stroke-width="1.1"/>
<line x1="690.29" y1="963.75" x2="690.29" y2="934.00" stroke="#B43AE6" stroke-width="1.1"/>
<line x1="687.29" y1="934.00" x2="693.29" y2="934.00" stroke="#B43AE6" stroke-width="1.1"/>
<line x1="697.67" y1="979.50" x2="697.67" y2="953.00" stroke="#B43AE6" stroke-width="1.1"/>
<line x1="694.67" y1="953.00" x2="700.67" y2="953.00" stroke="#B43AE6" stroke-width="1.1"/>
<line x1="705.05" y1="950.75" x2="705.05" y2="896.00" stroke="#B43AE6" stroke-width="1.1"/>
<line x1="702.05" y1="896.00" x2="708.05" y2="896.00" stroke="#B43AE6" stroke-width="1.1"/>
<line x1="712.43" y1="989.00" x2="712.43" y2="961.00" stroke="#B43AE6" stroke-width="1.1"/>
<line x1="709.43" y1="961.00" x2="715.43" y2="961.00" stroke="#B43AE6" stroke-width="1.1"/>
<line x1="719.81" y1="1006.00" x2="719.81" y2="999.50" stroke="#B43AE6" stroke-width="1.1"/>
<line x1="716.81" y1="999.50" x2="722.81" y2="999.50" stroke="#B43AE6" stroke-width="1.1"/>
<line x1="741.95" y1="1010.00" x2="741.95" y2="990.75" stroke="#B43AE6" stroke-width="1.1"/>
<line x1="738.95" y1="990.75" x2="744.95" y2="990.75" stroke="#B43AE6" stroke-width="1.1"/>
<line x1="764.09" y1="1024.20" x2="764.09" y2="1013.80" stroke="#B43AE6" stroke-width="1.1"/>
<line x1="761.09" y1="1013.80" x2="767.09" y2="1013.80" stroke="#B43AE6" stroke-width="1.1"/>
<circle cx="601.73" cy="1010.30" r="2.9" fill="#B43AE6"/>
<circle cx="609.11" cy="1013.00" r="2.9" fill="#B43AE6"/>
<circle cx="616.49" cy="1017.50" r="2.9" fill="#B43AE6"/>
<circle cx="623.87" cy="1015.00" r="2.9" fill="#B43AE6"/>
<circle cx="631.25" cy="1016.30" r="2.9" fill="#B43AE6"/>
<circle cx="638.63" cy="1017.50" r="2.9" fill="#B43AE6"/>
<circle cx="646.01" cy="1009.00" r="2.9" fill="#B43AE6"/>
<circle cx="653.39" cy="1011.70" r="2.9" fill="#B43AE6"/>
<circle cx="660.77" cy="1008.70" r="2.9" fill="#B43AE6"/>
<circle cx="668.15" cy="995.30" r="2.9" fill="#B43AE6"/>
<circle cx="675.53" cy="987.00" r="2.9" fill="#B43AE6"/>
<circle cx="682.91" cy="988.00" r="2.9" fill="#B43AE6"/>
<circle cx="690.29" cy="963.75" r="2.9" fill="#B43AE6"/>
<circle cx="697.67" cy="979.50" r="2.9" fill="#B43AE6"/>
<circle cx="705.05" cy="950.75" r="2.9" fill="#B43AE6"/>
<circle cx="712.43" cy="989.00" r="2.9" fill="#B43AE6"/>
<circle cx="719.81" cy="1006.00" r="2.9" fill="#B43AE6"/>
<circle cx="727.19" cy="1021.70" r="2.9" fill="#B43AE6"/>
<circle cx="734.57" cy="1020.30" r="2.9" fill="#B43AE6"/>
<circle cx="741.95" cy="1010.00" r="2.9" fill="#B43AE6"/>
<circle cx="749.33" cy="1023.30" r="2.9" fill="#B43AE6"/>
<circle cx="756.71" cy="1034.70" r="2.9" fill="#B43AE6"/>
<circle cx="764.09" cy="1024.20" r="2.9" fill="#B43AE6"/>
<path d="M594.3,860.75 L594.3,1046.25 L780.3,1046.25" fill="none" stroke="#000" stroke-width="2"/>
<line x1="588.3" y1="1046.25" x2="594.3" y2="1046.25" stroke="#000" stroke-width="1.8"/>
<text x="585.70" y="1051.95" font-size="16" text-anchor="end" fill="#000" stroke="#000" stroke-width="0.25" >0</text>
<line x1="590.8" y1="1015.50" x2="594.3" y2="1015.50" stroke="#000" stroke-width="1.8"/>
<line x1="588.3" y1="984.75" x2="594.3" y2="984.75" stroke="#000" stroke-width="1.8"/>
<text x="585.70" y="990.45" font-size="16" text-anchor="end" fill="#000" stroke="#000" stroke-width="0.25" >200</text>
<line x1="590.8" y1="954.00" x2="594.3" y2="954.00" stroke="#000" stroke-width="1.8"/>
<line x1="588.3" y1="923.25" x2="594.3" y2="923.25" stroke="#000" stroke-width="1.8"/>
<text x="585.70" y="928.95" font-size="16" text-anchor="end" fill="#000" stroke="#000" stroke-width="0.25" >400</text>
<line x1="590.8" y1="892.50" x2="594.3" y2="892.50" stroke="#000" stroke-width="1.8"/>
<line x1="588.3" y1="861.75" x2="594.3" y2="861.75" stroke="#000" stroke-width="1.8"/>
<text x="585.70" y="867.45" font-size="16" text-anchor="end" fill="#000" stroke="#000" stroke-width="0.25" >600</text>
<line x1="594.35" y1="1046.25" x2="594.35" y2="1052.25" stroke="#000" stroke-width="1.8"/>
<text x="594.35" y="1068.75" font-size="16.2" text-anchor="middle" fill="#000" stroke="#000" stroke-width="0.25" >-5</text>
<line x1="631.25" y1="1046.25" x2="631.25" y2="1052.25" stroke="#000" stroke-width="1.8"/>
<text x="631.25" y="1068.75" font-size="16.2" text-anchor="middle" fill="#000" stroke="#000" stroke-width="0.25" >0</text>
<line x1="668.15" y1="1046.25" x2="668.15" y2="1052.25" stroke="#000" stroke-width="1.8"/>
<text x="668.15" y="1068.75" font-size="16.2" text-anchor="middle" fill="#000" stroke="#000" stroke-width="0.25" >5</text>
<line x1="705.05" y1="1046.25" x2="705.05" y2="1052.25" stroke="#000" stroke-width="1.8"/>
<text x="705.05" y="1068.75" font-size="16.2" text-anchor="middle" fill="#000" stroke="#000" stroke-width="0.25" >10</text>
<line x1="741.95" y1="1046.25" x2="741.95" y2="1052.25" stroke="#000" stroke-width="1.8"/>
<text x="741.95" y="1068.75" font-size="16.2" text-anchor="middle" fill="#000" stroke="#000" stroke-width="0.25" >15</text>
<line x1="778.85" y1="1046.25" x2="778.85" y2="1052.25" stroke="#000" stroke-width="1.8"/>
<text x="778.85" y="1068.75" font-size="16.2" text-anchor="middle" fill="#000" stroke="#000" stroke-width="0.25" >20</text>
<text x="687.10" y="1089.80" font-size="16.3" text-anchor="middle" fill="#000" stroke="#000" stroke-width="0.25" >Time (min)</text>
<text x="690.90" y="842.90" font-size="18" text-anchor="middle" fill="#2a2a2a" letter-spacing="-0.2" stroke="#2a2a2a" stroke-width="0.25" >Frequency</text>
<text transform="translate(532.80,951.30) rotate(-90)" font-size="16" text-anchor="middle" fill="#000" stroke="#000" stroke-width="0.3">% baseline sEPSC</text>
<text transform="translate(552.80,951.80) rotate(-90)" font-size="16" text-anchor="middle" fill="#000" stroke="#000" stroke-width="0.3">frequency</text>
<path d="M784.5,889.2 L784.50,851.40 A37.8,37.8 0 0 1 784.50,927.00 Z" fill="#B43AE6"/>
<path d="M784.5,889.2 L784.50,927.00 A37.8,37.8 0 0 1 764.25,921.12 Z" fill="#E6A8F0"/>
<path d="M784.5,889.2 L764.25,921.12 A37.8,37.8 0 0 1 747.00,884.46 Z" fill="#F7900A"/>
<path d="M784.5,889.2 L747.00,884.46 A37.8,37.8 0 0 1 784.50,851.40 Z" fill="#999999"/>
<circle cx="784.5" cy="889.2" r="37.8" fill="none" stroke="#000" stroke-width="1.8"/>
<text x="803.30" y="890.90" font-size="13" text-anchor="middle" fill="#F4E8FA" >50%</text>
<text x="768.70" y="875.70" font-size="13" text-anchor="middle" fill="#EEE" >23%</text>
<text x="762.90" y="900.30" font-size="13" text-anchor="middle" fill="#FFF" >18%</text>
<text x="768.70" y="944.80" font-size="13" text-anchor="middle" fill="#222" stroke="#222" stroke-width="0.25" >9%</text>
<text x="785.00" y="850.20" font-size="30" text-anchor="middle" fill="#000" font-weight="bold" >*</text>
<line x1="775.7" y1="917" x2="770.7" y2="931.3" stroke="#000" stroke-width="1.8"/>
<circle cx="796.4" cy="987.5" r="3.3" fill="#B43AE6"/>
<text x="814.00" y="993.00" font-size="15.8" text-anchor="start" fill="#000" stroke="#000" stroke-width="0.25" >Increase</text>
<circle cx="796.4" cy="1006.4" r="3.3" fill="#F7900A"/>
<text x="814.00" y="1011.90" font-size="15.8" text-anchor="start" fill="#000" stroke="#000" stroke-width="0.25" >Decrease</text>
<circle cx="796.4" cy="1023.5" r="3.3" fill="#999999"/>
<text x="814.00" y="1029.00" font-size="15.8" text-anchor="start" fill="#000" stroke="#000" stroke-width="0.25" >No change</text>
<circle cx="796.4" cy="1040" r="3.3" fill="#E6A8F0"/>
<text x="814.00" y="1045.50" font-size="15.8" text-anchor="start" fill="#000" stroke="#000" stroke-width="0.25" >Variable</text>
<text x="890.90" y="835.00" font-size="24" text-anchor="start" fill="#000" font-weight="bold" >m</text>
<rect x="1022.5" y="867" width="75.5" height="179.25" fill="#FDF0F0"/>
<text x="1060.75" y="884.50" font-size="16.5" text-anchor="middle" fill="#000" stroke="#000" stroke-width="0.25" >E2</text>
<line x1="982.1" y1="1015.50" x2="1168.1" y2="1015.50" stroke="#000" stroke-width="1.6" stroke-dasharray="1.6,2.2"/>
<path d="M989.73,1016.25 L997.11,1016.50 L1004.49,1017.00 L1011.87,1017.50 L1019.25,1015.50 L1026.63,1016.50 L1034.01,1017.00 L1041.39,1017.50 L1048.77,1017.00 L1056.15,1017.50 L1063.53,1017.00 L1070.91,1016.50 L1078.29,1016.25 L1085.67,1016.50 L1093.05,1015.50 L1100.43,1015.50 L1107.81,1016.50 L1115.19,1017.50 L1122.57,1017.00 L1129.95,1022.00 L1137.33,1018.75 L1152.09,1020.00" fill="none" stroke="#999999" stroke-width="1.2"/>
<path d="M986.53,1018.95 L989.73,1013.15 L992.93,1018.95 Z" fill="#999999"/>
<path d="M993.91,1019.20 L997.11,1013.40 L1000.31,1019.20 Z" fill="#999999"/>
<path d="M1001.29,1019.70 L1004.49,1013.90 L1007.69,1019.70 Z" fill="#999999"/>
<path d="M1008.67,1020.20 L1011.87,1014.40 L1015.07,1020.20 Z" fill="#999999"/>
<path d="M1016.05,1018.20 L1019.25,1012.40 L1022.45,1018.20 Z" fill="#999999"/>
<path d="M1023.43,1019.20 L1026.63,1013.40 L1029.83,1019.20 Z" fill="#999999"/>
<path d="M1030.81,1019.70 L1034.01,1013.90 L1037.21,1019.70 Z" fill="#999999"/>
<path d="M1038.19,1020.20 L1041.39,1014.40 L1044.59,1020.20 Z" fill="#999999"/>
<path d="M1045.57,1019.70 L1048.77,1013.90 L1051.97,1019.70 Z" fill="#999999"/>
<path d="M1052.95,1020.20 L1056.15,1014.40 L1059.35,1020.20 Z" fill="#999999"/>
<path d="M1060.33,1019.70 L1063.53,1013.90 L1066.73,1019.70 Z" fill="#999999"/>
<path d="M1067.71,1019.20 L1070.91,1013.40 L1074.11,1019.20 Z" fill="#999999"/>
<path d="M1075.09,1018.95 L1078.29,1013.15 L1081.49,1018.95 Z" fill="#999999"/>
<path d="M1082.47,1019.20 L1085.67,1013.40 L1088.87,1019.20 Z" fill="#999999"/>
<path d="M1089.85,1018.20 L1093.05,1012.40 L1096.25,1018.20 Z" fill="#999999"/>
<path d="M1097.23,1018.20 L1100.43,1012.40 L1103.63,1018.20 Z" fill="#999999"/>
<path d="M1104.61,1019.20 L1107.81,1013.40 L1111.01,1019.20 Z" fill="#999999"/>
<path d="M1111.99,1020.20 L1115.19,1014.40 L1118.39,1020.20 Z" fill="#999999"/>
<path d="M1119.37,1019.70 L1122.57,1013.90 L1125.77,1019.70 Z" fill="#999999"/>
<path d="M1126.75,1024.70 L1129.95,1018.90 L1133.15,1024.70 Z" fill="#999999"/>
<path d="M1134.13,1021.45 L1137.33,1015.65 L1140.53,1021.45 Z" fill="#999999"/>
<path d="M1148.89,1022.70 L1152.09,1016.90 L1155.29,1022.70 Z" fill="#999999"/>
<path d="M989.73,1020.75 L997.11,1017.50 L1004.49,1017.50 L1011.87,1017.00 L1019.25,1015.00 L1026.63,1021.25 L1034.01,1020.00 L1041.39,1020.75 L1048.77,1020.75 L1056.15,1023.25 L1063.53,1024.50 L1070.91,1021.25 L1078.29,1022.50 L1085.67,1024.25 L1093.05,1024.50 L1100.43,1024.50 L1107.81,1024.50 L1115.19,1023.75 L1122.57,1025.50 L1129.95,1025.50 L1137.33,1025.50 L1144.71,1027.00 L1152.09,1028.25" fill="none" stroke="#F7900A" stroke-width="1.2"/>
<line x1="997.11" y1="1017.50" x2="997.11" y2="1014.50" stroke="#F7900A" stroke-width="1.1"/>
<line x1="994.11" y1="1014.50" x2="1000.11" y2="1014.50" stroke="#F7900A" stroke-width="1.1"/>
<line x1="1004.49" y1="1017.50" x2="1004.49" y2="1013.00" stroke="#F7900A" stroke-width="1.1"/>
<line x1="1001.49" y1="1013.00" x2="1007.49" y2="1013.00" stroke="#F7900A" stroke-width="1.1"/>
<path d="M986.53,1023.45 L989.73,1017.65 L992.93,1023.45 Z" fill="#F7900A"/>
<path d="M993.91,1020.20 L997.11,1014.40 L1000.31,1020.20 Z" fill="#F7900A"/>
<path d="M1001.29,1020.20 L1004.49,1014.40 L1007.69,1020.20 Z" fill="#F7900A"/>
<path d="M1008.67,1019.70 L1011.87,1013.90 L1015.07,1019.70 Z" fill="#F7900A"/>
<path d="M1016.05,1017.70 L1019.25,1011.90 L1022.45,1017.70 Z" fill="#F7900A"/>
<path d="M1023.43,1023.95 L1026.63,1018.15 L1029.83,1023.95 Z" fill="#F7900A"/>
<path d="M1030.81,1022.70 L1034.01,1016.90 L1037.21,1022.70 Z" fill="#F7900A"/>
<path d="M1038.19,1023.45 L1041.39,1017.65 L1044.59,1023.45 Z" fill="#F7900A"/>
<path d="M1045.57,1023.45 L1048.77,1017.65 L1051.97,1023.45 Z" fill="#F7900A"/>
<path d="M1052.95,1025.95 L1056.15,1020.15 L1059.35,1025.95 Z" fill="#F7900A"/>
<path d="M1060.33,1027.20 L1063.53,1021.40 L1066.73,1027.20 Z" fill="#F7900A"/>
<path d="M1067.71,1023.95 L1070.91,1018.15 L1074.11,1023.95 Z" fill="#F7900A"/>
<path d="M1075.09,1025.20 L1078.29,1019.40 L1081.49,1025.20 Z" fill="#F7900A"/>
<path d="M1082.47,1026.95 L1085.67,1021.15 L1088.87,1026.95 Z" fill="#F7900A"/>
<path d="M1089.85,1027.20 L1093.05,1021.40 L1096.25,1027.20 Z" fill="#F7900A"/>
<path d="M1097.23,1027.20 L1100.43,1021.40 L1103.63,1027.20 Z" fill="#F7900A"/>
<path d="M1104.61,1027.20 L1107.81,1021.40 L1111.01,1027.20 Z" fill="#F7900A"/>
<path d="M1111.99,1026.45 L1115.19,1020.65 L1118.39,1026.45 Z" fill="#F7900A"/>
<path d="M1119.37,1028.20 L1122.57,1022.40 L1125.77,1028.20 Z" fill="#F7900A"/>
<path d="M1126.75,1028.20 L1129.95,1022.40 L1133.15,1028.20 Z" fill="#F7900A"/>
<path d="M1134.13,1028.20 L1137.33,1022.40 L1140.53,1028.20 Z" fill="#F7900A"/>
<path d="M1141.51,1029.70 L1144.71,1023.90 L1147.91,1029.70 Z" fill="#F7900A"/>
<path d="M1148.89,1030.95 L1152.09,1025.15 L1155.29,1030.95 Z" fill="#F7900A"/>
<path d="M989.73,1015.50 L997.11,1015.00 L1004.49,1017.00 L1011.87,1016.25 L1019.25,1014.50 L1026.63,1015.00 L1034.01,1008.75 L1041.39,1012.00 L1048.77,1008.00 L1056.15,1007.50 L1063.53,1008.75 L1070.91,1000.50 L1078.29,1000.50 L1085.67,1003.75 L1093.05,993.00 L1100.43,1005.00 L1107.81,1015.00 L1115.19,1014.50 L1122.57,1002.50 L1129.95,1012.00 L1137.33,1010.00 L1144.71,1009.25 L1152.09,1007.50" fill="none" stroke="#B43AE6" stroke-width="1.2"/>
<line x1="997.11" y1="1015.00" x2="997.11" y2="1012.50" stroke="#B43AE6" stroke-width="1.1"/>
<line x1="994.11" y1="1012.50" x2="1000.11" y2="1012.50" stroke="#B43AE6" stroke-width="1.1"/>
<line x1="1034.01" y1="1008.75" x2="1034.01" y2="1003.75" stroke="#B43AE6" stroke-width="1.1"/>
<line x1="1031.01" y1="1003.75" x2="1037.01" y2="1003.75" stroke="#B43AE6" stroke-width="1.1"/>
<line x1="1041.39" y1="1012.00" x2="1041.39" y2="1010.00" stroke="#B43AE6" stroke-width="1.1"/>
<line x1="1038.39" y1="1010.00" x2="1044.39" y2="1010.00" stroke="#B43AE6" stroke-width="1.1"/>
<line x1="1048.77" y1="1008.00" x2="1048.77" y2="1005.50" stroke="#B43AE6" stroke-width="1.1"/>
<line x1="1045.77" y1="1005.50" x2="1051.77" y2="1005.50" stroke="#B43AE6" stroke-width="1.1"/>
<line x1="1070.91" y1="1000.50" x2="1070.91" y2="993.25" stroke="#B43AE6" stroke-width="1.1"/>
<line x1="1067.91" y1="993.25" x2="1073.91" y2="993.25" stroke="#B43AE6" stroke-width="1.1"/>
<line x1="1078.29" y1="1000.50" x2="1078.29" y2="994.25" stroke="#B43AE6" stroke-width="1.1"/>
<line x1="1075.29" y1="994.25" x2="1081.29" y2="994.25" stroke="#B43AE6" stroke-width="1.1"/>
<line x1="1085.67" y1="1003.75" x2="1085.67" y2="993.25" stroke="#B43AE6" stroke-width="1.1"/>
<line x1="1082.67" y1="993.25" x2="1088.67" y2="993.25" stroke="#B43AE6" stroke-width="1.1"/>
<line x1="1093.05" y1="993.00" x2="1093.05" y2="979.25" stroke="#B43AE6" stroke-width="1.1"/>
<line x1="1090.05" y1="979.25" x2="1096.05" y2="979.25" stroke="#B43AE6" stroke-width="1.1"/>
<line x1="1100.43" y1="1005.00" x2="1100.43" y2="996.75" stroke="#B43AE6" stroke-width="1.1"/>
<line x1="1097.43" y1="996.75" x2="1103.43" y2="996.75" stroke="#B43AE6" stroke-width="1.1"/>
<line x1="1122.57" y1="1002.50" x2="1122.57" y2="995.75" stroke="#B43AE6" stroke-width="1.1"/>
<line x1="1119.57" y1="995.75" x2="1125.57" y2="995.75" stroke="#B43AE6" stroke-width="1.1"/>
<line x1="1137.33" y1="1010.00" x2="1137.33" y2="1006.75" stroke="#B43AE6" stroke-width="1.1"/>
<line x1="1134.33" y1="1006.75" x2="1140.33" y2="1006.75" stroke="#B43AE6" stroke-width="1.1"/>
<path d="M986.53,1018.20 L989.73,1012.40 L992.93,1018.20 Z" fill="#B43AE6"/>
<path d="M993.91,1017.70 L997.11,1011.90 L1000.31,1017.70 Z" fill="#B43AE6"/>
<path d="M1001.29,1019.70 L1004.49,1013.90 L1007.69,1019.70 Z" fill="#B43AE6"/>
<path d="M1008.67,1018.95 L1011.87,1013.15 L1015.07,1018.95 Z" fill="#B43AE6"/>
<path d="M1016.05,1017.20 L1019.25,1011.40 L1022.45,1017.20 Z" fill="#B43AE6"/>
<path d="M1023.43,1017.70 L1026.63,1011.90 L1029.83,1017.70 Z" fill="#B43AE6"/>
<path d="M1030.81,1011.45 L1034.01,1005.65 L1037.21,1011.45 Z" fill="#B43AE6"/>
<path d="M1038.19,1014.70 L1041.39,1008.90 L1044.59,1014.70 Z" fill="#B43AE6"/>
<path d="M1045.57,1010.70 L1048.77,1004.90 L1051.97,1010.70 Z" fill="#B43AE6"/>
<path d="M1052.95,1010.20 L1056.15,1004.40 L1059.35,1010.20 Z" fill="#B43AE6"/>
<path d="M1060.33,1011.45 L1063.53,1005.65 L1066.73,1011.45 Z" fill="#B43AE6"/>
<path d="M1067.71,1003.20 L1070.91,997.40 L1074.11,1003.20 Z" fill="#B43AE6"/>
<path d="M1075.09,1003.20 L1078.29,997.40 L1081.49,1003.20 Z" fill="#B43AE6"/>
<path d="M1082.47,1006.45 L1085.67,1000.65 L1088.87,1006.45 Z" fill="#B43AE6"/>
<path d="M1089.85,995.70 L1093.05,989.90 L1096.25,995.70 Z" fill="#B43AE6"/>
<path d="M1097.23,1007.70 L1100.43,1001.90 L1103.63,1007.70 Z" fill="#B43AE6"/>
<path d="M1104.61,1017.70 L1107.81,1011.90 L1111.01,1017.70 Z" fill="#B43AE6"/>
<path d="M1111.99,1017.20 L1115.19,1011.40 L1118.39,1017.20 Z" fill="#B43AE6"/>
<path d="M1119.37,1005.20 L1122.57,999.40 L1125.77,1005.20 Z" fill="#B43AE6"/>
<path d="M1126.75,1014.70 L1129.95,1008.90 L1133.15,1014.70 Z" fill="#B43AE6"/>
<path d="M1134.13,1012.70 L1137.33,1006.90 L1140.53,1012.70 Z" fill="#B43AE6"/>
<path d="M1141.51,1011.95 L1144.71,1006.15 L1147.91,1011.95 Z" fill="#B43AE6"/>
<path d="M1148.89,1010.20 L1152.09,1004.40 L1155.29,1010.20 Z" fill="#B43AE6"/>
<path d="M982.1,860.75 L982.1,1046.25 L1168.1,1046.25" fill="none" stroke="#000" stroke-width="2"/>
<line x1="976.1" y1="1046.25" x2="982.1" y2="1046.25" stroke="#000" stroke-width="1.8"/>
<text x="973.50" y="1051.95" font-size="16" text-anchor="end" fill="#000" stroke="#000" stroke-width="0.25" >0</text>
<line x1="978.6" y1="1015.50" x2="982.1" y2="1015.50" stroke="#000" stroke-width="1.8"/>
<line x1="976.1" y1="984.75" x2="982.1" y2="984.75" stroke="#000" stroke-width="1.8"/>
<text x="973.50" y="990.45" font-size="16" text-anchor="end" fill="#000" stroke="#000" stroke-width="0.25" >200</text>
<line x1="978.6" y1="954.00" x2="982.1" y2="954.00" stroke="#000" stroke-width="1.8"/>
<line x1="976.1" y1="923.25" x2="982.1" y2="923.25" stroke="#000" stroke-width="1.8"/>
<text x="973.50" y="928.95" font-size="16" text-anchor="end" fill="#000" stroke="#000" stroke-width="0.25" >400</text>
<line x1="978.6" y1="892.50" x2="982.1" y2="892.50" stroke="#000" stroke-width="1.8"/>
<line x1="976.1" y1="861.75" x2="982.1" y2="861.75" stroke="#000" stroke-width="1.8"/>
<text x="973.50" y="867.45" font-size="16" text-anchor="end" fill="#000" stroke="#000" stroke-width="0.25" >600</text>
<line x1="982.35" y1="1046.25" x2="982.35" y2="1052.25" stroke="#000" stroke-width="1.8"/>
<text x="982.35" y="1068.75" font-size="16.2" text-anchor="middle" fill="#000" stroke="#000" stroke-width="0.25" >-5</text>
<line x1="1019.25" y1="1046.25" x2="1019.25" y2="1052.25" stroke="#000" stroke-width="1.8"/>
<text x="1019.25" y="1068.75" font-size="16.2" text-anchor="middle" fill="#000" stroke="#000" stroke-width="0.25" >0</text>
<line x1="1056.15" y1="1046.25" x2="1056.15" y2="1052.25" stroke="#000" stroke-width="1.8"/>
<text x="1056.15" y="1068.75" font-size="16.2" text-anchor="middle" fill="#000" stroke="#000" stroke-width="0.25" >5</text>
<line x1="1093.05" y1="1046.25" x2="1093.05" y2="1052.25" stroke="#000" stroke-width="1.8"/>
<text x="1093.05" y="1068.75" font-size="16.2" text-anchor="middle" fill="#000" stroke="#000" stroke-width="0.25" >10</text>
<line x1="1129.95" y1="1046.25" x2="1129.95" y2="1052.25" stroke="#000" stroke-width="1.8"/>
<text x="1129.95" y="1068.75" font-size="16.2" text-anchor="middle" fill="#000" stroke="#000" stroke-width="0.25" >15</text>
<line x1="1166.85" y1="1046.25" x2="1166.85" y2="1052.25" stroke="#000" stroke-width="1.8"/>
<text x="1166.85" y="1068.75" font-size="16.2" text-anchor="middle" fill="#000" stroke="#000" stroke-width="0.25" >20</text>
<text x="1074.90" y="1089.80" font-size="16.3" text-anchor="middle" fill="#000" stroke="#000" stroke-width="0.25" >Time (min)</text>
<text x="1070.35" y="842.90" font-size="18" text-anchor="middle" fill="#2a2a2a" letter-spacing="-0.2" stroke="#2a2a2a" stroke-width="0.25" >Amplitude</text>
<text transform="translate(920.60,951.30) rotate(-90)" font-size="16" text-anchor="middle" fill="#000" stroke="#000" stroke-width="0.3">% baseline sEPSC</text>
<text transform="translate(940.60,951.80) rotate(-90)" font-size="16" text-anchor="middle" fill="#000" stroke="#000" stroke-width="0.3">amplitude</text>
<path d="M1160,888.8 L1160.00,851.30 A37.5,37.5 0 0 1 1197.20,884.10 Z" fill="#B43AE6"/>
<path d="M1160,888.8 L1197.20,884.10 A37.5,37.5 0 0 1 1188.89,912.70 Z" fill="#F7900A"/>
<path d="M1160,888.8 L1188.89,912.70 A37.5,37.5 0 1 1 1160.00,851.30 Z" fill="#999999"/>
<circle cx="1160" cy="888.8" r="37.5" fill="none" stroke="#000" stroke-width="1.8"/>
<text x="1175.30" y="875.50" font-size="13" text-anchor="middle" fill="#F4E8FA" >23%</text>
<text x="1183.40" y="898.00" font-size="13" text-anchor="middle" fill="#FFF" >13%</text>
<text x="1144.80" y="897.50" font-size="13" text-anchor="middle" fill="#EEE" >64%</text>
</svg></body></html>
